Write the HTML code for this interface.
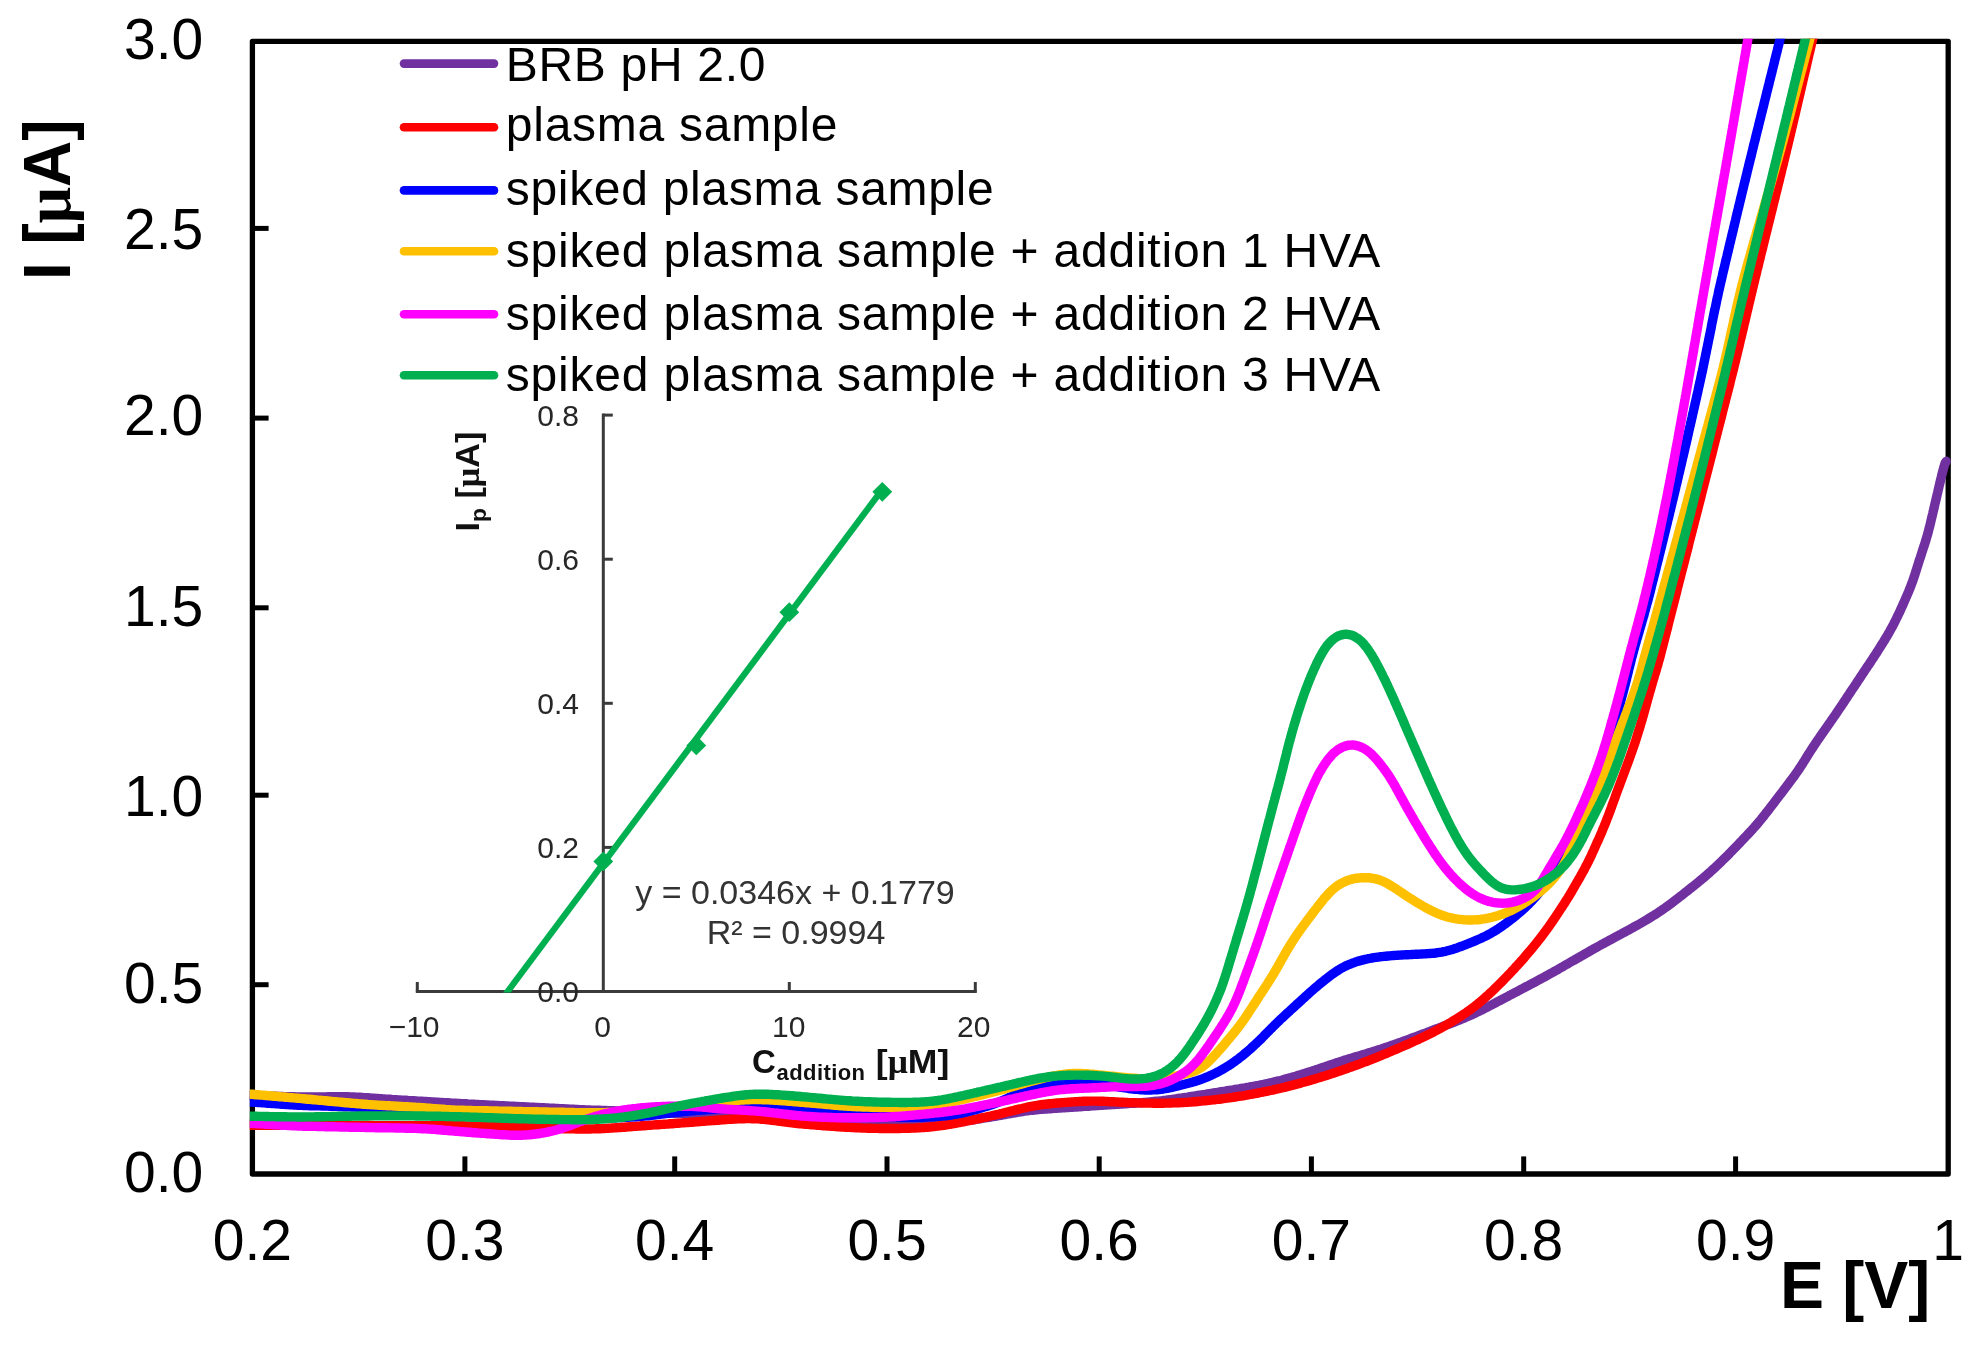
<!DOCTYPE html>
<html lang="en"><head><meta charset="utf-8"><title>DPV of plasma sample with HVA additions</title>
<style>html,body{margin:0;padding:0;background:#fff}body{width:1979px;height:1353px;overflow:hidden}svg{display:block;filter:blur(0.6px)}text{font-family:"Liberation Sans",sans-serif}</style></head><body>
<svg width="1979" height="1353" viewBox="0 0 1979 1353">
<rect x="0" y="0" width="1979" height="1353" fill="#fff"/>
<defs><clipPath id="plotclip"><rect x="249.8" y="38.8" width="1701.0" height="1135.2"/></clipPath></defs>
<g fill="none" stroke="#000" stroke-width="5.3" stroke-linejoin="round">
<rect x="252.4" y="41.3" width="1695.8" height="1132.7"/>
</g>
<g stroke="#000" stroke-width="5" fill="none">
<line x1="252.4" y1="228.4" x2="268.6" y2="228.4"/>
<line x1="252.4" y1="418.1" x2="268.6" y2="418.1"/>
<line x1="252.4" y1="607.8" x2="268.6" y2="607.8"/>
<line x1="252.4" y1="795.2" x2="268.6" y2="795.2"/>
<line x1="252.4" y1="984.7" x2="268.6" y2="984.7"/>
<line x1="464.9" y1="1174.0" x2="464.9" y2="1156.4"/>
<line x1="674.7" y1="1174.0" x2="674.7" y2="1156.4"/>
<line x1="887.0" y1="1174.0" x2="887.0" y2="1156.4"/>
<line x1="1099.2" y1="1174.0" x2="1099.2" y2="1156.4"/>
<line x1="1311.4" y1="1174.0" x2="1311.4" y2="1156.4"/>
<line x1="1523.7" y1="1174.0" x2="1523.7" y2="1156.4"/>
<line x1="1735.6" y1="1174.0" x2="1735.6" y2="1156.4"/>
</g>
<g font-size="57" fill="#000">
<text x="203.3" y="59.2" text-anchor="end">3.0</text>
<text x="203.3" y="249.1" text-anchor="end">2.5</text>
<text x="203.3" y="435.4" text-anchor="end">2.0</text>
<text x="203.3" y="625.7" text-anchor="end">1.5</text>
<text x="203.3" y="815.7" text-anchor="end">1.0</text>
<text x="203.3" y="1002.6" text-anchor="end">0.5</text>
<text x="203.3" y="1192.2" text-anchor="end">0.0</text>
<text x="252.4" y="1260.2" text-anchor="middle">0.2</text>
<text x="464.9" y="1260.2" text-anchor="middle">0.3</text>
<text x="674.7" y="1260.2" text-anchor="middle">0.4</text>
<text x="887.0" y="1260.2" text-anchor="middle">0.5</text>
<text x="1099.2" y="1260.2" text-anchor="middle">0.6</text>
<text x="1311.4" y="1260.2" text-anchor="middle">0.7</text>
<text x="1523.7" y="1260.2" text-anchor="middle">0.8</text>
<text x="1735.6" y="1260.2" text-anchor="middle">0.9</text>
<text x="1948.2" y="1260.2" text-anchor="middle">1</text>
</g>
<text x="1780" y="1307.6" font-size="66" font-weight="bold" fill="#000">E [V]</text>
<text transform="translate(69.5 280) rotate(-90)" font-size="66" font-weight="bold" fill="#000" textLength="160.5" lengthAdjust="spacingAndGlyphs">I [<tspan font-family="Liberation Serif, serif">μ</tspan>A]</text>
<g fill="none" stroke-width="9.4" stroke-linecap="round" stroke-linejoin="round" clip-path="url(#plotclip)">
<path stroke="#7030A0" d="M248.0,1095.3 250.2,1095.4 252.3,1095.5 254.3,1095.6 256.2,1095.7 258.2,1095.7 260.1,1095.8 262.1,1095.9 264.0,1096.0 266.0,1096.0 268.0,1096.1 270.0,1096.2 272.0,1096.2 274.0,1096.3 276.0,1096.3 278.0,1096.4 280.0,1096.5 282.0,1096.5 284.0,1096.6 286.0,1096.6 288.0,1096.7 290.0,1096.7 292.0,1096.8 294.0,1096.8 296.0,1096.9 298.0,1096.9 300.0,1096.9 302.0,1097.0 304.0,1097.0 306.0,1097.0 308.0,1097.0 310.0,1097.0 312.0,1097.0 314.0,1097.0 316.0,1097.0 318.0,1097.0 320.0,1096.9 322.0,1096.9 324.0,1096.9 326.0,1096.9 328.0,1096.8 330.0,1096.8 332.0,1096.8 334.0,1096.8 336.0,1096.7 338.0,1096.7 340.0,1096.7 342.0,1096.8 344.0,1096.8 346.0,1096.8 348.0,1096.8 350.0,1096.9 352.0,1097.0 354.0,1097.0 356.0,1097.1 358.0,1097.2 360.0,1097.3 362.0,1097.4 364.0,1097.6 366.0,1097.7 368.0,1097.8 370.0,1097.9 372.0,1098.1 374.0,1098.2 376.0,1098.4 378.0,1098.5 380.0,1098.6 382.0,1098.8 384.0,1098.9 386.0,1099.1 387.9,1099.2 389.9,1099.3 391.9,1099.5 393.9,1099.6 395.9,1099.7 397.9,1099.9 399.9,1100.0 401.9,1100.1 403.9,1100.2 405.9,1100.3 407.9,1100.5 409.9,1100.6 411.9,1100.7 413.9,1100.8 415.9,1100.9 417.9,1101.1 419.9,1101.2 421.9,1101.3 423.9,1101.4 425.9,1101.5 427.9,1101.7 429.9,1101.8 431.9,1101.9 433.9,1102.0 435.9,1102.1 437.9,1102.2 439.9,1102.4 441.9,1102.5 443.9,1102.6 445.9,1102.7 447.9,1102.8 449.9,1102.9 451.9,1103.1 453.8,1103.2 455.8,1103.3 457.8,1103.4 459.8,1103.5 461.8,1103.6 463.8,1103.7 465.8,1103.8 467.8,1104.0 469.8,1104.1 471.8,1104.2 473.8,1104.3 475.8,1104.4 477.8,1104.5 479.8,1104.6 481.8,1104.7 483.8,1104.8 485.8,1104.9 487.8,1105.0 489.8,1105.1 491.8,1105.2 493.8,1105.3 495.8,1105.4 497.8,1105.5 499.8,1105.6 501.8,1105.7 503.8,1105.8 505.8,1105.9 507.8,1106.0 509.8,1106.1 511.8,1106.2 513.8,1106.3 515.8,1106.4 517.8,1106.5 519.8,1106.6 521.8,1106.7 523.8,1106.8 525.8,1106.9 527.8,1107.0 529.8,1107.1 531.8,1107.2 533.8,1107.3 535.8,1107.4 537.8,1107.5 539.8,1107.6 541.8,1107.7 543.8,1107.8 545.8,1107.9 547.8,1108.0 549.8,1108.1 551.8,1108.2 553.8,1108.3 555.7,1108.4 557.7,1108.5 559.7,1108.6 561.7,1108.7 563.7,1108.8 565.7,1108.9 567.7,1109.0 569.7,1109.1 571.7,1109.2 573.7,1109.3 575.7,1109.4 577.7,1109.5 579.7,1109.6 581.7,1109.7 583.7,1109.8 585.7,1109.9 587.7,1109.9 589.7,1110.0 591.7,1110.1 593.7,1110.2 595.7,1110.2 597.7,1110.3 599.7,1110.3 601.7,1110.4 603.7,1110.5 605.7,1110.5 607.7,1110.6 609.7,1110.6 611.7,1110.7 613.7,1110.8 615.7,1110.9 617.7,1110.9 619.7,1111.0 621.7,1111.1 623.7,1111.2 625.7,1111.3 627.7,1111.4 629.7,1111.5 631.7,1111.6 633.7,1111.7 635.7,1111.8 637.7,1111.9 639.7,1112.0 641.7,1112.1 643.7,1112.2 645.7,1112.3 647.7,1112.4 649.7,1112.5 651.7,1112.6 653.7,1112.7 655.7,1112.8 657.7,1112.9 659.7,1113.0 661.7,1113.0 663.7,1113.1 665.7,1113.2 667.7,1113.2 669.7,1113.3 671.7,1113.4 673.7,1113.4 675.7,1113.5 677.7,1113.5 679.7,1113.6 681.7,1113.6 683.7,1113.7 685.7,1113.7 687.7,1113.8 689.7,1113.8 691.7,1113.8 693.7,1113.9 695.7,1113.9 697.7,1113.9 699.7,1114.0 701.7,1114.0 703.7,1114.0 705.7,1114.0 707.7,1114.0 709.7,1114.0 711.7,1114.0 713.7,1114.0 715.7,1114.0 717.7,1113.9 719.7,1113.9 721.7,1113.9 723.7,1113.9 725.7,1113.8 727.7,1113.8 729.7,1113.8 731.7,1113.7 733.7,1113.7 735.7,1113.7 737.7,1113.7 739.7,1113.7 741.7,1113.7 743.7,1113.7 745.7,1113.7 747.7,1113.7 749.7,1113.7 751.7,1113.8 753.7,1113.8 755.7,1113.9 757.7,1114.0 759.7,1114.1 761.7,1114.2 763.7,1114.4 765.7,1114.5 767.7,1114.7 769.7,1114.8 771.7,1115.0 773.7,1115.2 775.6,1115.4 777.6,1115.6 779.6,1115.8 781.6,1116.0 783.6,1116.3 785.6,1116.5 787.6,1116.7 789.6,1116.9 791.6,1117.1 793.5,1117.3 795.5,1117.5 797.5,1117.7 799.5,1117.9 801.5,1118.1 803.5,1118.3 805.5,1118.5 807.5,1118.6 809.5,1118.8 811.5,1119.0 813.5,1119.1 815.5,1119.3 817.5,1119.5 819.4,1119.6 821.4,1119.8 823.4,1120.0 825.4,1120.1 827.4,1120.3 829.4,1120.4 831.4,1120.6 833.4,1120.8 835.4,1120.9 837.4,1121.1 839.4,1121.2 841.4,1121.4 843.4,1121.5 845.4,1121.6 847.4,1121.8 849.4,1121.9 851.4,1122.1 853.4,1122.2 855.4,1122.3 857.4,1122.4 859.4,1122.5 861.4,1122.6 863.4,1122.7 865.4,1122.8 867.4,1122.9 869.4,1123.0 871.4,1123.1 873.4,1123.2 875.4,1123.3 877.4,1123.3 879.4,1123.4 881.4,1123.5 883.4,1123.5 885.4,1123.6 887.4,1123.7 889.4,1123.7 891.4,1123.8 893.4,1123.8 895.4,1123.9 897.4,1123.9 899.4,1124.0 901.4,1124.0 903.4,1124.1 905.4,1124.1 907.4,1124.2 909.4,1124.2 911.4,1124.2 913.4,1124.3 915.4,1124.3 917.4,1124.3 919.4,1124.3 921.4,1124.3 923.4,1124.3 925.4,1124.3 927.4,1124.3 929.4,1124.2 931.4,1124.2 933.4,1124.1 935.4,1124.0 937.4,1123.9 939.4,1123.8 941.4,1123.7 943.4,1123.5 945.4,1123.3 947.4,1123.2 949.3,1123.0 951.3,1122.7 953.3,1122.5 955.3,1122.3 957.3,1122.0 959.3,1121.8 961.3,1121.5 963.3,1121.2 965.2,1120.9 967.2,1120.6 969.2,1120.4 971.2,1120.1 973.2,1119.8 975.1,1119.5 977.1,1119.2 979.1,1118.8 981.1,1118.5 983.0,1118.2 985.0,1117.9 987.0,1117.6 989.0,1117.3 990.9,1117.0 992.9,1116.6 994.9,1116.3 996.9,1116.0 998.8,1115.6 1000.8,1115.3 1002.8,1114.9 1004.7,1114.6 1006.7,1114.2 1008.7,1113.9 1010.6,1113.5 1012.6,1113.2 1014.6,1112.8 1016.6,1112.5 1018.5,1112.1 1020.5,1111.8 1022.5,1111.5 1024.5,1111.2 1026.4,1110.9 1028.4,1110.7 1030.4,1110.4 1032.4,1110.2 1034.4,1110.0 1036.4,1109.8 1038.4,1109.6 1040.4,1109.4 1042.3,1109.3 1044.3,1109.1 1046.3,1109.0 1048.3,1108.8 1050.3,1108.7 1052.3,1108.5 1054.3,1108.4 1056.3,1108.3 1058.3,1108.1 1060.3,1108.0 1062.3,1107.9 1064.3,1107.8 1066.3,1107.6 1068.3,1107.5 1070.3,1107.4 1072.3,1107.2 1074.3,1107.1 1076.3,1107.0 1078.3,1106.8 1080.3,1106.7 1082.3,1106.6 1084.3,1106.4 1086.3,1106.3 1088.3,1106.2 1090.3,1106.0 1092.2,1105.9 1094.2,1105.8 1096.2,1105.6 1098.2,1105.5 1100.2,1105.4 1102.2,1105.3 1104.2,1105.1 1106.2,1105.0 1108.2,1104.9 1110.2,1104.7 1112.2,1104.6 1114.2,1104.5 1116.2,1104.3 1118.2,1104.2 1120.2,1104.1 1122.2,1104.0 1124.2,1103.8 1126.2,1103.7 1128.2,1103.6 1130.2,1103.4 1132.2,1103.3 1134.2,1103.2 1136.2,1103.0 1138.2,1102.9 1140.2,1102.7 1142.2,1102.6 1144.2,1102.4 1146.1,1102.3 1148.1,1102.1 1150.1,1101.9 1152.1,1101.7 1154.1,1101.5 1156.1,1101.3 1158.1,1101.1 1160.1,1100.9 1162.1,1100.7 1164.1,1100.4 1166.0,1100.2 1168.0,1099.9 1170.0,1099.6 1172.0,1099.4 1174.0,1099.1 1176.0,1098.8 1177.9,1098.5 1179.9,1098.2 1181.9,1098.0 1183.9,1097.7 1185.9,1097.4 1187.8,1097.1 1189.8,1096.7 1191.8,1096.4 1193.8,1096.1 1195.7,1095.8 1197.7,1095.5 1199.7,1095.2 1201.7,1094.9 1203.6,1094.6 1205.6,1094.3 1207.6,1093.9 1209.6,1093.6 1211.5,1093.3 1213.5,1093.0 1215.5,1092.7 1217.5,1092.4 1219.4,1092.0 1221.4,1091.7 1223.4,1091.4 1225.4,1091.1 1227.3,1090.7 1229.3,1090.4 1231.3,1090.1 1233.3,1089.8 1235.2,1089.4 1237.2,1089.1 1239.2,1088.8 1241.2,1088.4 1243.1,1088.1 1245.1,1087.8 1247.1,1087.4 1249.0,1087.1 1251.0,1086.7 1253.0,1086.4 1254.9,1086.0 1256.9,1085.6 1258.9,1085.3 1260.8,1084.9 1262.8,1084.5 1264.8,1084.1 1266.7,1083.7 1268.7,1083.2 1270.6,1082.8 1272.6,1082.4 1274.5,1081.9 1276.5,1081.4 1278.4,1080.9 1280.4,1080.5 1282.3,1080.0 1284.2,1079.4 1286.2,1078.9 1288.1,1078.4 1290.0,1077.9 1291.9,1077.3 1293.9,1076.7 1295.8,1076.2 1297.7,1075.6 1299.6,1075.0 1301.5,1074.4 1303.5,1073.9 1305.4,1073.2 1307.3,1072.6 1309.2,1072.0 1311.1,1071.4 1313.0,1070.8 1314.9,1070.2 1316.8,1069.5 1318.7,1068.9 1320.6,1068.2 1322.5,1067.6 1324.4,1067.0 1326.3,1066.3 1328.1,1065.7 1330.0,1065.0 1331.9,1064.4 1333.8,1063.8 1335.7,1063.1 1337.6,1062.5 1339.5,1061.9 1341.4,1061.3 1343.3,1060.6 1345.2,1060.0 1347.2,1059.4 1349.1,1058.8 1351.0,1058.3 1352.9,1057.7 1354.8,1057.1 1356.7,1056.5 1358.6,1056.0 1360.6,1055.4 1362.5,1054.8 1364.4,1054.2 1366.3,1053.7 1368.2,1053.1 1370.1,1052.5 1372.0,1051.9 1374.0,1051.3 1375.9,1050.7 1377.8,1050.1 1379.7,1049.5 1381.6,1048.9 1383.5,1048.2 1385.4,1047.6 1387.3,1047.0 1389.2,1046.3 1391.0,1045.6 1392.9,1045.0 1394.8,1044.3 1396.7,1043.7 1398.6,1043.0 1400.5,1042.3 1402.4,1041.6 1404.2,1040.9 1406.1,1040.3 1408.0,1039.6 1409.9,1038.9 1411.7,1038.2 1413.6,1037.5 1415.5,1036.8 1417.4,1036.1 1419.2,1035.4 1421.1,1034.7 1423.0,1034.0 1424.9,1033.3 1426.7,1032.6 1428.6,1031.8 1430.5,1031.1 1432.3,1030.4 1434.2,1029.7 1436.1,1029.0 1438.0,1028.3 1439.8,1027.6 1441.7,1026.9 1443.6,1026.1 1445.4,1025.4 1447.3,1024.7 1449.2,1024.0 1451.0,1023.3 1452.9,1022.6 1454.8,1021.8 1456.6,1021.1 1458.5,1020.4 1460.4,1019.6 1462.2,1018.8 1464.1,1018.1 1465.9,1017.3 1467.7,1016.5 1469.6,1015.7 1471.4,1014.9 1473.2,1014.1 1475.0,1013.2 1476.8,1012.3 1478.6,1011.5 1480.4,1010.6 1482.2,1009.7 1484.0,1008.8 1485.8,1007.9 1487.5,1007.0 1489.3,1006.0 1491.1,1005.1 1492.9,1004.2 1494.6,1003.3 1496.4,1002.3 1498.2,1001.4 1500.0,1000.5 1501.7,999.6 1503.5,998.6 1505.3,997.7 1507.0,996.8 1508.8,995.8 1510.6,994.9 1512.4,994.0 1514.1,993.0 1515.9,992.1 1517.7,991.2 1519.4,990.2 1521.2,989.3 1523.0,988.4 1524.8,987.4 1526.5,986.5 1528.3,985.6 1530.1,984.6 1531.8,983.7 1533.6,982.8 1535.4,981.8 1537.1,980.9 1538.9,979.9 1540.6,979.0 1542.4,978.0 1544.2,977.1 1545.9,976.1 1547.7,975.1 1549.4,974.2 1551.2,973.2 1552.9,972.2 1554.7,971.3 1556.4,970.3 1558.2,969.3 1559.9,968.3 1561.6,967.3 1563.4,966.3 1565.1,965.3 1566.8,964.3 1568.6,963.3 1570.3,962.3 1572.0,961.3 1573.8,960.4 1575.5,959.4 1577.2,958.4 1579.0,957.4 1580.7,956.4 1582.5,955.4 1584.2,954.4 1585.9,953.4 1587.7,952.4 1589.4,951.4 1591.1,950.4 1592.9,949.4 1594.6,948.4 1596.4,947.5 1598.1,946.5 1599.9,945.5 1601.6,944.5 1603.4,943.6 1605.1,942.6 1606.9,941.7 1608.6,940.7 1610.4,939.8 1612.2,938.8 1613.9,937.9 1615.7,936.9 1617.5,936.0 1619.2,935.0 1621.0,934.1 1622.7,933.2 1624.5,932.2 1626.3,931.3 1628.0,930.3 1629.8,929.3 1631.5,928.4 1633.3,927.4 1635.0,926.4 1636.8,925.5 1638.5,924.5 1640.3,923.5 1642.0,922.5 1643.7,921.5 1645.4,920.5 1647.2,919.4 1648.9,918.4 1650.6,917.4 1652.3,916.3 1654.0,915.3 1655.7,914.2 1657.4,913.1 1659.0,912.0 1660.7,910.9 1662.3,909.7 1664.0,908.6 1665.6,907.5 1667.2,906.3 1668.9,905.1 1670.5,903.9 1672.1,902.7 1673.7,901.5 1675.3,900.3 1676.9,899.1 1678.4,897.9 1680.0,896.6 1681.6,895.4 1683.2,894.2 1684.8,892.9 1686.3,891.7 1687.9,890.5 1689.5,889.2 1691.0,888.0 1692.6,886.7 1694.2,885.5 1695.7,884.2 1697.3,883.0 1698.8,881.7 1700.4,880.4 1701.9,879.1 1703.4,877.9 1704.9,876.6 1706.5,875.2 1708.0,873.9 1709.5,872.6 1711.0,871.3 1712.4,869.9 1713.9,868.6 1715.4,867.2 1716.8,865.9 1718.3,864.5 1719.7,863.1 1721.2,861.7 1722.6,860.3 1724.0,858.9 1725.5,857.5 1726.9,856.1 1728.3,854.7 1729.7,853.2 1731.1,851.8 1732.5,850.4 1733.9,848.9 1735.3,847.5 1736.7,846.1 1738.1,844.6 1739.4,843.2 1740.8,841.7 1742.2,840.3 1743.6,838.8 1745.0,837.4 1746.4,835.9 1747.7,834.5 1749.1,833.0 1750.5,831.5 1751.8,830.1 1753.1,828.6 1754.5,827.1 1755.8,825.6 1757.1,824.1 1758.4,822.6 1759.7,821.0 1761.0,819.5 1762.2,817.9 1763.5,816.4 1764.7,814.8 1765.9,813.2 1767.2,811.7 1768.4,810.1 1769.6,808.5 1770.8,806.9 1772.1,805.3 1773.3,803.7 1774.5,802.1 1775.7,800.5 1776.9,798.9 1778.1,797.4 1779.3,795.8 1780.5,794.2 1781.8,792.6 1783.0,791.0 1784.2,789.4 1785.4,787.8 1786.6,786.2 1787.8,784.6 1789.0,783.0 1790.2,781.4 1791.4,779.8 1792.6,778.2 1793.8,776.6 1795.0,775.0 1796.1,773.3 1797.3,771.7 1798.4,770.1 1799.5,768.4 1800.6,766.7 1801.7,765.0 1802.8,763.4 1803.8,761.7 1804.9,760.0 1805.9,758.3 1807.0,756.6 1808.0,754.9 1809.1,753.2 1810.2,751.5 1811.3,749.8 1812.4,748.1 1813.5,746.5 1814.6,744.8 1815.7,743.1 1816.8,741.5 1817.9,739.8 1819.1,738.2 1820.2,736.5 1821.3,734.9 1822.5,733.2 1823.6,731.6 1824.8,730.0 1825.9,728.3 1827.1,726.7 1828.2,725.0 1829.4,723.4 1830.5,721.8 1831.6,720.1 1832.8,718.5 1833.9,716.8 1835.1,715.2 1836.2,713.5 1837.3,711.9 1838.4,710.2 1839.5,708.5 1840.7,706.9 1841.8,705.2 1842.9,703.6 1844.0,701.9 1845.1,700.2 1846.2,698.6 1847.3,696.9 1848.4,695.2 1849.5,693.6 1850.6,691.9 1851.7,690.2 1852.8,688.6 1854.0,686.9 1855.1,685.2 1856.2,683.6 1857.3,681.9 1858.4,680.2 1859.5,678.6 1860.6,676.9 1861.7,675.2 1862.8,673.6 1863.9,671.9 1865.0,670.2 1866.1,668.6 1867.2,666.9 1868.4,665.2 1869.5,663.6 1870.6,661.9 1871.7,660.2 1872.8,658.6 1873.9,656.9 1875.0,655.2 1876.1,653.6 1877.2,651.9 1878.2,650.2 1879.3,648.5 1880.4,646.8 1881.4,645.1 1882.5,643.4 1883.6,641.7 1884.6,640.0 1885.6,638.3 1886.7,636.6 1887.7,634.9 1888.7,633.1 1889.7,631.4 1890.6,629.6 1891.6,627.9 1892.6,626.1 1893.5,624.4 1894.4,622.6 1895.3,620.8 1896.2,619.0 1897.1,617.2 1898.0,615.4 1898.8,613.6 1899.7,611.8 1900.5,610.0 1901.3,608.2 1902.2,606.3 1903.0,604.5 1903.8,602.7 1904.6,600.9 1905.4,599.0 1906.2,597.2 1907.0,595.4 1907.8,593.5 1908.6,591.7 1909.3,589.8 1910.1,588.0 1910.8,586.1 1911.5,584.2 1912.2,582.3 1912.9,580.5 1913.5,578.6 1914.2,576.7 1914.8,574.8 1915.4,572.9 1916.0,571.0 1916.6,569.1 1917.2,567.2 1917.8,565.3 1918.4,563.4 1919.0,561.4 1919.6,559.5 1920.3,557.6 1920.9,555.7 1921.5,553.8 1922.1,551.9 1922.7,550.0 1923.3,548.1 1924.0,546.2 1924.6,544.3 1925.2,542.4 1925.8,540.5 1926.3,538.6 1926.9,536.7 1927.5,534.7 1928.0,532.8 1928.5,530.9 1929.0,528.9 1929.5,527.0 1930.0,525.1 1930.5,523.1 1930.9,521.2 1931.4,519.2 1931.8,517.3 1932.3,515.3 1932.8,513.4 1933.2,511.4 1933.7,509.5 1934.1,507.5 1934.6,505.6 1935.0,503.6 1935.5,501.7 1936.0,499.7 1936.4,497.8 1936.9,495.9 1937.3,493.9 1937.8,492.0 1938.2,490.0 1938.7,488.1 1939.1,486.1 1939.6,484.2 1940.1,482.2 1940.5,480.3 1941.0,478.4 1941.5,476.4 1941.9,474.5 1942.4,472.6 1942.9,470.7 1943.4,468.9 1943.9,467.0 1944.5,465.0 1945.1,463.1 1946.3,461.3"/>
<path stroke="#FF0000" d="M248.0,1125.3 250.2,1125.3 252.3,1125.3 254.3,1125.3 256.2,1125.3 258.2,1125.3 260.1,1125.3 262.1,1125.3 264.1,1125.3 266.0,1125.3 268.0,1125.3 270.0,1125.3 272.0,1125.3 274.0,1125.3 276.0,1125.3 278.0,1125.3 280.0,1125.3 282.0,1125.4 284.0,1125.4 286.0,1125.4 288.0,1125.4 290.0,1125.4 292.0,1125.4 294.0,1125.4 296.0,1125.4 298.0,1125.4 300.0,1125.4 302.0,1125.4 304.0,1125.4 306.0,1125.4 308.0,1125.4 310.0,1125.4 312.0,1125.4 314.0,1125.4 316.0,1125.4 318.0,1125.4 320.1,1125.4 322.1,1125.4 324.1,1125.4 326.1,1125.4 328.1,1125.5 330.1,1125.5 332.1,1125.5 334.1,1125.5 336.1,1125.5 338.1,1125.5 340.1,1125.5 342.1,1125.5 344.1,1125.5 346.1,1125.5 348.1,1125.5 350.1,1125.5 352.1,1125.5 354.1,1125.5 356.1,1125.5 358.1,1125.5 360.1,1125.5 362.1,1125.5 364.1,1125.5 366.1,1125.5 368.1,1125.5 370.1,1125.5 372.1,1125.5 374.1,1125.6 376.1,1125.6 378.1,1125.6 380.1,1125.6 382.1,1125.6 384.1,1125.6 386.1,1125.6 388.1,1125.6 390.1,1125.6 392.1,1125.6 394.1,1125.6 396.1,1125.6 398.1,1125.6 400.1,1125.6 402.1,1125.6 404.1,1125.6 406.1,1125.6 408.1,1125.6 410.1,1125.6 412.1,1125.6 414.1,1125.6 416.1,1125.7 418.1,1125.7 420.1,1125.7 422.1,1125.7 424.1,1125.7 426.1,1125.7 428.1,1125.7 430.1,1125.7 432.1,1125.7 434.1,1125.7 436.1,1125.7 438.1,1125.7 440.1,1125.7 442.1,1125.7 444.1,1125.7 446.1,1125.7 448.1,1125.8 450.1,1125.8 452.1,1125.8 454.1,1125.8 456.1,1125.8 458.1,1125.8 460.1,1125.8 462.1,1125.8 464.2,1125.8 466.2,1125.9 468.2,1125.9 470.2,1125.9 472.2,1125.9 474.2,1126.0 476.2,1126.0 478.2,1126.0 480.2,1126.1 482.2,1126.1 484.2,1126.2 486.2,1126.2 488.2,1126.2 490.2,1126.3 492.2,1126.3 494.2,1126.4 496.2,1126.4 498.2,1126.5 500.2,1126.5 502.2,1126.6 504.2,1126.6 506.2,1126.7 508.2,1126.7 510.2,1126.8 512.2,1126.8 514.2,1126.9 516.2,1126.9 518.2,1127.0 520.2,1127.0 522.2,1127.1 524.2,1127.1 526.2,1127.2 528.2,1127.3 530.2,1127.3 532.2,1127.4 534.2,1127.5 536.2,1127.6 538.2,1127.6 540.2,1127.7 542.2,1127.8 544.2,1127.9 546.2,1128.0 548.2,1128.1 550.2,1128.1 552.2,1128.2 554.2,1128.3 556.2,1128.4 558.2,1128.5 560.2,1128.5 562.2,1128.6 564.2,1128.7 566.2,1128.7 568.2,1128.8 570.2,1128.9 572.2,1128.9 574.2,1128.9 576.2,1129.0 578.2,1129.0 580.2,1129.0 582.2,1129.0 584.2,1129.0 586.2,1129.0 588.2,1129.0 590.2,1129.0 592.2,1128.9 594.2,1128.9 596.2,1128.8 598.2,1128.8 600.2,1128.7 602.2,1128.6 604.2,1128.5 606.2,1128.4 608.2,1128.3 610.2,1128.1 612.2,1128.0 614.2,1127.9 616.2,1127.7 618.2,1127.6 620.2,1127.5 622.2,1127.3 624.2,1127.2 626.2,1127.0 628.2,1126.9 630.2,1126.7 632.2,1126.6 634.1,1126.4 636.1,1126.2 638.1,1126.1 640.1,1126.0 642.1,1125.8 644.1,1125.7 646.1,1125.5 648.1,1125.4 650.1,1125.2 652.1,1125.1 654.1,1124.9 656.1,1124.8 658.1,1124.7 660.1,1124.5 662.1,1124.4 664.1,1124.2 666.1,1124.1 668.1,1124.0 670.1,1123.8 672.1,1123.7 674.1,1123.5 676.1,1123.4 678.1,1123.2 680.1,1123.1 682.1,1122.9 684.1,1122.8 686.0,1122.6 688.0,1122.5 690.0,1122.3 692.0,1122.2 694.0,1122.0 696.0,1121.9 698.0,1121.7 700.0,1121.6 702.0,1121.4 704.0,1121.2 706.0,1121.1 708.0,1120.9 710.0,1120.8 712.0,1120.6 714.0,1120.5 716.0,1120.3 718.0,1120.2 720.0,1120.0 722.0,1119.9 724.0,1119.7 726.0,1119.6 728.0,1119.4 730.0,1119.3 732.0,1119.2 734.0,1119.1 736.0,1119.0 738.0,1118.9 740.0,1118.8 742.0,1118.7 744.0,1118.7 746.0,1118.6 748.0,1118.6 750.0,1118.6 752.0,1118.7 754.0,1118.7 755.9,1118.8 757.9,1118.9 759.9,1119.0 761.9,1119.2 763.9,1119.3 765.9,1119.5 767.9,1119.7 769.9,1120.0 771.9,1120.2 773.9,1120.5 775.8,1120.7 777.8,1121.0 779.8,1121.2 781.8,1121.5 783.8,1121.8 785.8,1122.0 787.8,1122.3 789.8,1122.6 791.7,1122.8 793.7,1123.0 795.7,1123.3 797.7,1123.5 799.7,1123.7 801.7,1123.9 803.7,1124.1 805.7,1124.3 807.7,1124.4 809.7,1124.6 811.7,1124.8 813.7,1124.9 815.7,1125.1 817.6,1125.2 819.6,1125.4 821.6,1125.5 823.6,1125.7 825.6,1125.8 827.6,1126.0 829.6,1126.1 831.6,1126.3 833.6,1126.4 835.6,1126.6 837.6,1126.7 839.6,1126.8 841.6,1127.0 843.6,1127.1 845.6,1127.2 847.6,1127.3 849.6,1127.4 851.6,1127.5 853.6,1127.6 855.6,1127.7 857.6,1127.8 859.6,1127.9 861.6,1128.0 863.6,1128.1 865.6,1128.1 867.6,1128.2 869.6,1128.3 871.6,1128.3 873.6,1128.4 875.6,1128.4 877.6,1128.4 879.6,1128.5 881.6,1128.5 883.6,1128.5 885.6,1128.5 887.6,1128.5 889.6,1128.5 891.6,1128.5 893.6,1128.5 895.6,1128.5 897.6,1128.5 899.6,1128.5 901.6,1128.4 903.6,1128.4 905.6,1128.3 907.6,1128.3 909.6,1128.2 911.6,1128.1 913.6,1128.1 915.6,1128.0 917.6,1127.9 919.6,1127.7 921.6,1127.6 923.6,1127.5 925.6,1127.3 927.6,1127.2 929.6,1127.0 931.6,1126.8 933.6,1126.6 935.6,1126.3 937.6,1126.1 939.5,1125.8 941.5,1125.6 943.5,1125.3 945.5,1125.0 947.5,1124.7 949.5,1124.3 951.5,1124.0 953.4,1123.7 955.4,1123.3 957.4,1122.9 959.3,1122.6 961.3,1122.2 963.3,1121.8 965.2,1121.4 967.2,1121.0 969.2,1120.6 971.1,1120.2 973.1,1119.8 975.0,1119.4 977.0,1119.0 979.0,1118.6 980.9,1118.1 982.9,1117.7 984.8,1117.3 986.8,1116.9 988.7,1116.4 990.7,1116.0 992.6,1115.5 994.6,1115.1 996.5,1114.7 998.5,1114.2 1000.4,1113.7 1002.4,1113.3 1004.3,1112.8 1006.2,1112.3 1008.2,1111.8 1010.1,1111.3 1012.1,1110.8 1014.0,1110.4 1015.9,1109.9 1017.9,1109.4 1019.8,1108.9 1021.8,1108.5 1023.7,1108.0 1025.7,1107.6 1027.6,1107.1 1029.6,1106.7 1031.6,1106.3 1033.5,1106.0 1035.5,1105.6 1037.5,1105.3 1039.4,1105.0 1041.4,1104.7 1043.4,1104.4 1045.4,1104.2 1047.4,1104.0 1049.4,1103.8 1051.4,1103.6 1053.4,1103.4 1055.4,1103.2 1057.3,1103.0 1059.3,1102.9 1061.3,1102.7 1063.3,1102.6 1065.3,1102.4 1067.3,1102.3 1069.3,1102.1 1071.3,1102.0 1073.3,1101.9 1075.3,1101.7 1077.3,1101.6 1079.3,1101.5 1081.3,1101.4 1083.3,1101.3 1085.3,1101.2 1087.3,1101.2 1089.3,1101.1 1091.3,1101.1 1093.3,1101.1 1095.3,1101.1 1097.3,1101.1 1099.3,1101.2 1101.3,1101.2 1103.3,1101.3 1105.3,1101.4 1107.3,1101.5 1109.3,1101.6 1111.3,1101.7 1113.3,1101.8 1115.3,1101.9 1117.3,1102.0 1119.3,1102.1 1121.3,1102.2 1123.3,1102.3 1125.3,1102.4 1127.3,1102.5 1129.3,1102.6 1131.3,1102.7 1133.3,1102.8 1135.3,1102.8 1137.3,1102.9 1139.3,1102.9 1141.3,1103.0 1143.3,1103.0 1145.3,1103.1 1147.3,1103.1 1149.3,1103.1 1151.3,1103.1 1153.3,1103.2 1155.3,1103.2 1157.3,1103.2 1159.3,1103.2 1161.3,1103.2 1163.3,1103.2 1165.3,1103.1 1167.3,1103.1 1169.3,1103.1 1171.3,1103.0 1173.3,1102.9 1175.3,1102.9 1177.3,1102.8 1179.3,1102.7 1181.3,1102.6 1183.3,1102.5 1185.3,1102.4 1187.3,1102.3 1189.3,1102.1 1191.3,1102.0 1193.3,1101.8 1195.3,1101.7 1197.3,1101.5 1199.3,1101.3 1201.3,1101.1 1203.3,1100.9 1205.3,1100.7 1207.3,1100.5 1209.2,1100.3 1211.2,1100.1 1213.2,1099.9 1215.2,1099.7 1217.2,1099.4 1219.2,1099.2 1221.2,1099.0 1223.2,1098.7 1225.2,1098.4 1227.1,1098.2 1229.1,1097.9 1231.1,1097.6 1233.1,1097.3 1235.1,1097.0 1237.0,1096.7 1239.0,1096.4 1241.0,1096.1 1243.0,1095.8 1244.9,1095.4 1246.9,1095.1 1248.9,1094.7 1250.9,1094.4 1252.8,1094.0 1254.8,1093.7 1256.8,1093.3 1258.7,1092.9 1260.7,1092.5 1262.7,1092.1 1264.6,1091.7 1266.6,1091.3 1268.5,1090.9 1270.5,1090.5 1272.5,1090.1 1274.4,1089.6 1276.4,1089.2 1278.3,1088.7 1280.3,1088.3 1282.2,1087.8 1284.2,1087.4 1286.1,1086.9 1288.0,1086.4 1290.0,1085.9 1291.9,1085.4 1293.9,1084.9 1295.8,1084.4 1297.7,1083.9 1299.7,1083.4 1301.6,1082.8 1303.5,1082.3 1305.4,1081.7 1307.4,1081.2 1309.3,1080.6 1311.2,1080.1 1313.1,1079.5 1315.1,1078.9 1317.0,1078.3 1318.9,1077.8 1320.8,1077.2 1322.7,1076.6 1324.6,1076.0 1326.5,1075.4 1328.4,1074.8 1330.3,1074.2 1332.2,1073.5 1334.1,1072.9 1336.0,1072.3 1337.9,1071.6 1339.8,1071.0 1341.7,1070.3 1343.6,1069.7 1345.5,1069.0 1347.4,1068.4 1349.3,1067.7 1351.2,1067.0 1353.0,1066.3 1354.9,1065.7 1356.8,1065.0 1358.7,1064.3 1360.6,1063.6 1362.4,1062.9 1364.3,1062.2 1366.2,1061.5 1368.0,1060.8 1369.9,1060.0 1371.8,1059.3 1373.6,1058.6 1375.5,1057.8 1377.4,1057.1 1379.2,1056.3 1381.1,1055.6 1382.9,1054.8 1384.8,1054.0 1386.6,1053.3 1388.5,1052.5 1390.3,1051.7 1392.1,1050.9 1394.0,1050.2 1395.8,1049.4 1397.7,1048.6 1399.5,1047.8 1401.3,1047.0 1403.2,1046.2 1405.0,1045.4 1406.8,1044.6 1408.7,1043.8 1410.5,1043.0 1412.3,1042.1 1414.1,1041.3 1416.0,1040.5 1417.8,1039.7 1419.6,1038.8 1421.4,1038.0 1423.2,1037.1 1425.0,1036.2 1426.8,1035.4 1428.6,1034.5 1430.4,1033.6 1432.2,1032.7 1434.0,1031.8 1435.7,1030.8 1437.5,1029.9 1439.3,1028.9 1441.0,1028.0 1442.8,1027.0 1444.5,1026.0 1446.2,1025.0 1448.0,1024.0 1449.7,1023.0 1451.4,1022.0 1453.1,1020.9 1454.9,1019.9 1456.6,1018.9 1458.3,1017.8 1459.9,1016.7 1461.6,1015.6 1463.3,1014.5 1465.0,1013.4 1466.6,1012.3 1468.2,1011.1 1469.9,1010.0 1471.5,1008.8 1473.1,1007.6 1474.7,1006.3 1476.2,1005.1 1477.8,1003.9 1479.3,1002.6 1480.9,1001.3 1482.4,1000.0 1483.9,998.7 1485.4,997.4 1486.9,996.0 1488.4,994.7 1489.9,993.3 1491.3,992.0 1492.8,990.6 1494.2,989.2 1495.7,987.8 1497.1,986.4 1498.5,985.0 1499.9,983.6 1501.3,982.2 1502.8,980.8 1504.2,979.3 1505.5,977.9 1506.9,976.5 1508.3,975.0 1509.7,973.6 1511.1,972.1 1512.4,970.6 1513.8,969.2 1515.2,967.7 1516.5,966.2 1517.9,964.7 1519.2,963.3 1520.5,961.8 1521.9,960.3 1523.2,958.8 1524.5,957.3 1525.8,955.7 1527.1,954.2 1528.4,952.7 1529.7,951.2 1531.0,949.6 1532.3,948.1 1533.5,946.6 1534.8,945.0 1536.1,943.5 1537.3,941.9 1538.6,940.3 1539.8,938.7 1541.0,937.2 1542.2,935.6 1543.4,934.0 1544.6,932.4 1545.8,930.8 1547.0,929.1 1548.2,927.5 1549.3,925.9 1550.5,924.3 1551.6,922.6 1552.7,921.0 1553.9,919.3 1555.0,917.7 1556.1,916.0 1557.2,914.3 1558.3,912.7 1559.4,911.0 1560.5,909.3 1561.6,907.6 1562.7,906.0 1563.8,904.3 1564.9,902.6 1565.9,900.9 1567.0,899.2 1568.1,897.5 1569.1,895.8 1570.1,894.1 1571.2,892.4 1572.2,890.6 1573.2,888.9 1574.2,887.2 1575.2,885.4 1576.2,883.7 1577.2,882.0 1578.2,880.2 1579.2,878.5 1580.2,876.8 1581.1,875.0 1582.1,873.3 1583.1,871.5 1584.1,869.8 1585.0,868.0 1585.9,866.2 1586.9,864.5 1587.8,862.7 1588.7,860.9 1589.5,859.1 1590.4,857.3 1591.3,855.5 1592.1,853.7 1592.9,851.8 1593.8,850.0 1594.6,848.2 1595.4,846.4 1596.2,844.5 1597.0,842.7 1597.9,840.9 1598.7,839.1 1599.5,837.2 1600.3,835.4 1601.1,833.6 1601.9,831.7 1602.6,829.9 1603.4,828.0 1604.2,826.2 1604.9,824.3 1605.7,822.5 1606.4,820.6 1607.1,818.7 1607.9,816.9 1608.6,815.0 1609.3,813.1 1610.0,811.3 1610.7,809.4 1611.4,807.5 1612.0,805.6 1612.7,803.7 1613.4,801.9 1614.1,800.0 1614.8,798.1 1615.5,796.2 1616.1,794.3 1616.8,792.4 1617.5,790.6 1618.2,788.7 1618.9,786.8 1619.6,784.9 1620.3,783.1 1621.0,781.2 1621.7,779.3 1622.4,777.4 1623.1,775.6 1623.8,773.7 1624.5,771.8 1625.2,769.9 1625.9,768.1 1626.6,766.2 1627.3,764.3 1628.0,762.4 1628.7,760.6 1629.4,758.7 1630.0,756.8 1630.7,754.9 1631.4,753.0 1632.1,751.1 1632.7,749.2 1633.4,747.3 1634.0,745.5 1634.7,743.6 1635.3,741.7 1635.9,739.8 1636.5,737.9 1637.1,735.9 1637.7,734.0 1638.3,732.1 1638.9,730.2 1639.5,728.3 1640.1,726.4 1640.6,724.5 1641.2,722.5 1641.8,720.6 1642.3,718.7 1642.9,716.8 1643.4,714.8 1644.0,712.9 1644.5,711.0 1645.0,709.1 1645.6,707.1 1646.1,705.2 1646.6,703.3 1647.2,701.3 1647.7,699.4 1648.2,697.5 1648.8,695.6 1649.3,693.6 1649.9,691.7 1650.4,689.8 1651.0,687.9 1651.5,685.9 1652.1,684.0 1652.6,682.1 1653.2,680.2 1653.8,678.3 1654.3,676.3 1654.9,674.4 1655.5,672.5 1656.1,670.6 1656.6,668.7 1657.2,666.7 1657.8,664.8 1658.3,662.9 1658.8,661.0 1659.4,659.0 1659.9,657.1 1660.4,655.2 1660.9,653.2 1661.4,651.3 1661.9,649.4 1662.4,647.4 1662.9,645.5 1663.4,643.6 1663.9,641.6 1664.4,639.7 1664.9,637.7 1665.4,635.8 1665.9,633.9 1666.4,631.9 1666.9,630.0 1667.4,628.0 1667.9,626.1 1668.3,624.2 1668.8,622.2 1669.3,620.3 1669.8,618.3 1670.3,616.4 1670.8,614.5 1671.3,612.5 1671.8,610.6 1672.3,608.6 1672.8,606.7 1673.3,604.8 1673.8,602.8 1674.3,600.9 1674.8,598.9 1675.3,597.0 1675.8,595.1 1676.3,593.1 1676.8,591.2 1677.2,589.2 1677.7,587.3 1678.2,585.4 1678.7,583.4 1679.2,581.5 1679.7,579.6 1680.2,577.6 1680.7,575.7 1681.2,573.7 1681.7,571.8 1682.2,569.9 1682.7,567.9 1683.2,566.0 1683.7,564.0 1684.2,562.1 1684.7,560.2 1685.2,558.2 1685.7,556.3 1686.2,554.3 1686.7,552.4 1687.2,550.5 1687.7,548.5 1688.2,546.6 1688.6,544.7 1689.1,542.7 1689.6,540.8 1690.1,538.8 1690.6,536.9 1691.1,535.0 1691.6,533.0 1692.1,531.1 1692.6,529.1 1693.1,527.2 1693.6,525.3 1694.1,523.3 1694.6,521.4 1695.1,519.4 1695.6,517.5 1696.1,515.6 1696.6,513.6 1697.1,511.7 1697.6,509.8 1698.1,507.8 1698.6,505.9 1699.1,503.9 1699.6,502.0 1700.1,500.1 1700.6,498.1 1701.1,496.2 1701.5,494.2 1702.0,492.3 1702.5,490.4 1703.0,488.4 1703.5,486.5 1704.0,484.5 1704.5,482.6 1705.0,480.7 1705.5,478.7 1706.0,476.8 1706.5,474.8 1707.0,472.9 1707.5,471.0 1708.0,469.0 1708.5,467.1 1709.0,465.2 1709.5,463.2 1710.0,461.3 1710.5,459.3 1711.0,457.4 1711.5,455.5 1712.0,453.5 1712.5,451.6 1713.0,449.6 1713.4,447.7 1713.9,445.8 1714.4,443.8 1714.9,441.9 1715.4,439.9 1715.9,438.0 1716.4,436.1 1716.9,434.1 1717.4,432.2 1717.9,430.2 1718.4,428.3 1718.9,426.4 1719.4,424.4 1719.9,422.5 1720.4,420.6 1720.9,418.6 1721.4,416.7 1721.9,414.7 1722.4,412.8 1722.8,410.9 1723.3,408.9 1723.8,407.0 1724.3,405.0 1724.8,403.1 1725.3,401.2 1725.8,399.2 1726.3,397.3 1726.8,395.3 1727.3,393.4 1727.8,391.5 1728.3,389.5 1728.8,387.6 1729.3,385.6 1729.8,383.7 1730.2,381.8 1730.7,379.8 1731.2,377.9 1731.7,375.9 1732.2,374.0 1732.7,372.1 1733.2,370.1 1733.7,368.2 1734.1,366.2 1734.6,364.3 1735.1,362.3 1735.6,360.4 1736.0,358.5 1736.5,356.5 1737.0,354.6 1737.4,352.6 1737.9,350.7 1738.4,348.7 1738.9,346.8 1739.3,344.8 1739.8,342.9 1740.2,340.9 1740.7,339.0 1741.2,337.0 1741.6,335.1 1742.1,333.1 1742.6,331.2 1743.0,329.3 1743.5,327.3 1743.9,325.4 1744.4,323.4 1744.9,321.5 1745.3,319.5 1745.8,317.6 1746.2,315.6 1746.7,313.7 1747.1,311.7 1747.6,309.8 1748.1,307.8 1748.5,305.9 1749.0,303.9 1749.4,302.0 1749.9,300.0 1750.4,298.1 1750.8,296.1 1751.3,294.2 1751.8,292.2 1752.2,290.3 1752.7,288.4 1753.2,286.4 1753.6,284.5 1754.1,282.5 1754.6,280.6 1755.0,278.6 1755.5,276.7 1756.0,274.7 1756.5,272.8 1756.9,270.8 1757.4,268.9 1757.9,267.0 1758.4,265.0 1758.8,263.1 1759.3,261.1 1759.8,259.2 1760.3,257.2 1760.7,255.3 1761.2,253.4 1761.7,251.4 1762.2,249.5 1762.7,247.5 1763.1,245.6 1763.6,243.6 1764.1,241.7 1764.6,239.7 1765.1,237.8 1765.5,235.9 1766.0,233.9 1766.5,232.0 1767.0,230.0 1767.5,228.1 1767.9,226.1 1768.4,224.2 1768.9,222.3 1769.4,220.3 1769.9,218.4 1770.4,216.4 1770.8,214.5 1771.3,212.6 1771.8,210.6 1772.3,208.7 1772.8,206.7 1773.2,204.8 1773.7,202.8 1774.2,200.9 1774.7,199.0 1775.2,197.0 1775.6,195.1 1776.1,193.1 1776.6,191.2 1777.1,189.2 1777.6,187.3 1778.0,185.3 1778.5,183.4 1779.0,181.5 1779.5,179.5 1779.9,177.6 1780.4,175.6 1780.9,173.7 1781.4,171.7 1781.8,169.8 1782.3,167.9 1782.8,165.9 1783.3,164.0 1783.7,162.0 1784.2,160.1 1784.7,158.1 1785.1,156.2 1785.6,154.2 1786.1,152.3 1786.5,150.3 1787.0,148.4 1787.5,146.5 1787.9,144.5 1788.4,142.6 1788.9,140.6 1789.3,138.7 1789.8,136.7 1790.3,134.8 1790.7,132.8 1791.2,130.9 1791.6,128.9 1792.1,127.0 1792.6,125.0 1793.0,123.1 1793.5,121.1 1793.9,119.2 1794.4,117.2 1794.9,115.3 1795.3,113.3 1795.8,111.4 1796.2,109.4 1796.7,107.5 1797.1,105.5 1797.6,103.6 1798.0,101.6 1798.5,99.7 1799.0,97.7 1799.4,95.8 1799.9,93.9 1800.3,91.9 1800.8,90.0 1801.2,88.0 1801.7,86.1 1802.1,84.1 1802.6,82.2 1803.0,80.2 1803.5,78.3 1803.9,76.3 1804.4,74.4 1804.9,72.4 1805.3,70.5 1805.8,68.5 1806.2,66.6 1806.7,64.6 1807.1,62.7 1807.6,60.7 1808.0,58.8 1808.5,56.8 1808.9,54.9 1809.4,52.9 1809.9,51.0 1810.3,49.0 1810.8,47.1 1811.2,45.1 1811.7,43.2 1812.1,41.2 1812.6,39.3 1813.1,37.3 1813.5,35.4 1814.0,33.4 1814.4,31.5 1814.9,29.6 1815.3,27.6 1815.8,25.7 1816.2,23.8 1816.7,21.9 1817.1,20.0 1817.6,18.1 1818.0,16.2 1818.5,14.1 1819.0,12.0"/>
<path stroke="#0000FF" d="M248.0,1102.0 250.2,1102.0 252.3,1102.1 254.3,1102.2 256.2,1102.3 258.2,1102.5 260.1,1102.6 262.1,1102.7 264.0,1102.9 266.0,1103.0 268.0,1103.2 270.0,1103.3 272.0,1103.5 274.0,1103.6 276.0,1103.8 277.9,1103.9 279.9,1104.1 281.9,1104.2 283.9,1104.4 285.9,1104.5 287.9,1104.6 289.9,1104.8 291.9,1104.9 293.9,1105.0 295.9,1105.1 297.9,1105.2 299.9,1105.3 301.9,1105.4 303.9,1105.5 305.9,1105.5 307.9,1105.6 309.9,1105.7 311.9,1105.7 313.9,1105.8 315.9,1105.8 317.9,1105.9 319.9,1105.9 321.9,1106.0 323.9,1106.0 325.9,1106.1 327.9,1106.1 329.9,1106.2 331.9,1106.3 333.9,1106.3 335.9,1106.4 337.9,1106.5 339.9,1106.5 341.9,1106.6 343.9,1106.7 345.9,1106.7 347.9,1106.8 349.9,1106.9 351.9,1107.0 353.9,1107.0 355.9,1107.1 357.9,1107.2 359.9,1107.3 361.9,1107.4 363.9,1107.4 365.9,1107.5 367.9,1107.6 369.9,1107.7 371.9,1107.8 373.9,1107.8 375.9,1107.9 377.9,1108.0 379.9,1108.1 381.9,1108.2 383.9,1108.3 385.9,1108.3 387.9,1108.4 389.9,1108.5 391.9,1108.6 393.9,1108.7 395.9,1108.8 397.9,1108.9 399.9,1109.0 401.9,1109.1 403.9,1109.2 405.9,1109.3 407.9,1109.4 409.9,1109.5 411.9,1109.6 413.9,1109.7 415.9,1109.8 417.9,1109.9 419.9,1110.0 421.9,1110.1 423.9,1110.2 425.9,1110.3 427.9,1110.4 429.9,1110.5 431.8,1110.6 433.8,1110.7 435.8,1110.8 437.8,1110.9 439.8,1111.0 441.8,1111.1 443.8,1111.2 445.8,1111.3 447.8,1111.4 449.8,1111.5 451.8,1111.6 453.8,1111.7 455.8,1111.8 457.8,1111.9 459.8,1112.0 461.8,1112.1 463.8,1112.2 465.8,1112.3 467.8,1112.4 469.8,1112.5 471.8,1112.6 473.8,1112.7 475.8,1112.8 477.8,1112.9 479.8,1113.0 481.8,1113.1 483.8,1113.2 485.8,1113.3 487.8,1113.4 489.8,1113.5 491.8,1113.6 493.8,1113.7 495.8,1113.8 497.8,1113.9 499.8,1114.0 501.8,1114.1 503.8,1114.2 505.8,1114.3 507.8,1114.4 509.8,1114.5 511.8,1114.6 513.8,1114.7 515.8,1114.8 517.8,1114.9 519.8,1115.0 521.8,1115.1 523.8,1115.2 525.8,1115.3 527.8,1115.4 529.8,1115.5 531.8,1115.5 533.8,1115.6 535.8,1115.7 537.8,1115.8 539.8,1115.9 541.8,1116.0 543.8,1116.1 545.8,1116.2 547.8,1116.2 549.8,1116.3 551.8,1116.4 553.8,1116.5 555.8,1116.6 557.8,1116.6 559.8,1116.7 561.8,1116.8 563.8,1116.9 565.8,1116.9 567.7,1117.0 569.7,1117.1 571.7,1117.2 573.7,1117.2 575.7,1117.3 577.7,1117.4 579.7,1117.4 581.7,1117.5 583.7,1117.6 585.7,1117.6 587.7,1117.7 589.7,1117.7 591.7,1117.7 593.7,1117.8 595.7,1117.8 597.7,1117.8 599.7,1117.8 601.7,1117.8 603.7,1117.8 605.8,1117.8 607.8,1117.8 609.8,1117.8 611.8,1117.8 613.8,1117.7 615.8,1117.7 617.8,1117.6 619.8,1117.6 621.8,1117.5 623.8,1117.4 625.8,1117.3 627.8,1117.2 629.8,1117.1 631.8,1117.0 633.8,1116.9 635.8,1116.8 637.8,1116.6 639.8,1116.5 641.7,1116.3 643.7,1116.1 645.7,1115.9 647.7,1115.7 649.7,1115.5 651.7,1115.3 653.7,1115.1 655.7,1114.8 657.7,1114.6 659.7,1114.4 661.6,1114.1 663.6,1113.9 665.6,1113.6 667.6,1113.4 669.6,1113.1 671.6,1112.9 673.6,1112.7 675.5,1112.4 677.5,1112.2 679.5,1112.0 681.5,1111.8 683.5,1111.6 685.5,1111.4 687.5,1111.3 689.5,1111.1 691.5,1110.9 693.5,1110.8 695.5,1110.6 697.4,1110.4 699.4,1110.3 701.4,1110.1 703.4,1110.0 705.4,1109.8 707.4,1109.6 709.4,1109.5 711.4,1109.3 713.4,1109.2 715.4,1109.0 717.4,1108.9 719.4,1108.7 721.4,1108.6 723.4,1108.4 725.4,1108.2 727.4,1108.1 729.4,1107.9 731.4,1107.8 733.4,1107.6 735.4,1107.5 737.4,1107.4 739.4,1107.3 741.4,1107.2 743.4,1107.1 745.4,1107.0 747.4,1107.0 749.4,1107.0 751.4,1107.0 753.4,1107.0 755.4,1107.0 757.4,1107.1 759.4,1107.2 761.4,1107.3 763.4,1107.4 765.4,1107.5 767.4,1107.6 769.3,1107.8 771.3,1107.9 773.3,1108.0 775.3,1108.2 777.3,1108.3 779.3,1108.5 781.3,1108.6 783.3,1108.7 785.3,1108.9 787.3,1109.0 789.3,1109.2 791.3,1109.3 793.3,1109.4 795.3,1109.6 797.3,1109.7 799.3,1109.9 801.3,1110.0 803.3,1110.2 805.3,1110.3 807.3,1110.4 809.3,1110.6 811.3,1110.7 813.3,1110.9 815.3,1111.0 817.2,1111.2 819.2,1111.3 821.2,1111.4 823.2,1111.6 825.2,1111.7 827.2,1111.9 829.2,1112.0 831.2,1112.2 833.2,1112.3 835.2,1112.4 837.2,1112.6 839.2,1112.7 841.2,1112.9 843.2,1113.0 845.2,1113.2 847.2,1113.3 849.2,1113.4 851.2,1113.6 853.2,1113.7 855.2,1113.9 857.2,1114.0 859.2,1114.2 861.2,1114.3 863.1,1114.5 865.1,1114.6 867.1,1114.8 869.1,1114.9 871.1,1115.1 873.1,1115.3 875.1,1115.4 877.1,1115.6 879.1,1115.7 881.1,1115.9 883.1,1116.0 885.1,1116.2 887.1,1116.3 889.1,1116.5 891.1,1116.6 893.1,1116.8 895.1,1116.9 897.1,1117.0 899.1,1117.1 901.1,1117.2 903.1,1117.3 905.1,1117.3 907.1,1117.4 909.1,1117.4 911.1,1117.4 913.1,1117.4 915.1,1117.4 917.1,1117.3 919.1,1117.3 921.1,1117.2 923.1,1117.2 925.1,1117.1 927.1,1117.0 929.1,1116.9 931.0,1116.8 933.0,1116.7 935.0,1116.6 937.0,1116.4 939.0,1116.3 941.0,1116.1 943.0,1115.9 945.0,1115.7 947.0,1115.5 949.0,1115.3 951.0,1115.0 952.9,1114.7 954.9,1114.4 956.9,1114.0 958.9,1113.7 960.8,1113.3 962.8,1112.9 964.7,1112.4 966.7,1112.0 968.6,1111.5 970.6,1111.0 972.5,1110.5 974.4,1110.0 976.4,1109.4 978.3,1108.9 980.2,1108.3 982.1,1107.7 984.0,1107.1 986.0,1106.5 987.9,1105.9 989.8,1105.3 991.7,1104.7 993.6,1104.0 995.4,1103.3 997.3,1102.6 999.2,1101.9 1001.0,1101.2 1002.9,1100.4 1004.7,1099.6 1006.5,1098.8 1008.3,1097.9 1010.1,1097.1 1011.9,1096.2 1013.7,1095.3 1015.5,1094.4 1017.3,1093.5 1019.1,1092.7 1020.9,1091.8 1022.7,1091.0 1024.5,1090.2 1026.4,1089.4 1028.3,1088.6 1030.1,1087.9 1032.0,1087.2 1034.0,1086.6 1035.9,1086.0 1037.9,1085.4 1039.8,1084.9 1041.8,1084.4 1043.7,1084.0 1045.7,1083.6 1047.7,1083.2 1049.7,1082.9 1051.7,1082.6 1053.6,1082.3 1055.6,1082.1 1057.6,1082.0 1059.6,1081.8 1061.6,1081.7 1063.6,1081.7 1065.6,1081.7 1067.6,1081.7 1069.5,1081.7 1071.5,1081.8 1073.5,1081.9 1075.5,1082.0 1077.5,1082.1 1079.5,1082.3 1081.5,1082.4 1083.5,1082.6 1085.5,1082.8 1087.5,1083.0 1089.5,1083.2 1091.5,1083.4 1093.4,1083.6 1095.4,1083.8 1097.4,1084.0 1099.4,1084.2 1101.4,1084.5 1103.4,1084.7 1105.4,1085.0 1107.4,1085.3 1109.3,1085.5 1111.3,1085.8 1113.3,1086.1 1115.3,1086.4 1117.3,1086.7 1119.2,1087.0 1121.2,1087.3 1123.2,1087.6 1125.2,1087.9 1127.2,1088.2 1129.1,1088.5 1131.1,1088.8 1133.1,1089.0 1135.1,1089.2 1137.1,1089.4 1139.1,1089.6 1141.1,1089.8 1143.0,1089.9 1145.0,1090.0 1147.0,1090.0 1149.0,1090.0 1151.0,1090.0 1153.0,1089.9 1155.0,1089.8 1157.0,1089.7 1159.0,1089.5 1161.0,1089.3 1163.0,1089.0 1164.9,1088.7 1166.9,1088.3 1168.9,1088.0 1170.8,1087.6 1172.8,1087.1 1174.7,1086.7 1176.7,1086.2 1178.6,1085.8 1180.6,1085.3 1182.5,1084.8 1184.4,1084.3 1186.4,1083.8 1188.3,1083.3 1190.2,1082.8 1192.1,1082.2 1194.1,1081.6 1196.0,1081.1 1197.9,1080.4 1199.8,1079.8 1201.7,1079.1 1203.5,1078.5 1205.4,1077.7 1207.2,1077.0 1209.1,1076.2 1210.9,1075.4 1212.7,1074.5 1214.5,1073.6 1216.3,1072.7 1218.1,1071.8 1219.8,1070.9 1221.6,1069.9 1223.3,1068.9 1225.1,1067.9 1226.8,1066.8 1228.5,1065.8 1230.1,1064.7 1231.8,1063.6 1233.4,1062.4 1235.1,1061.3 1236.7,1060.1 1238.3,1058.9 1239.8,1057.7 1241.4,1056.4 1243.0,1055.2 1244.5,1053.9 1246.0,1052.6 1247.6,1051.3 1249.1,1050.0 1250.6,1048.7 1252.1,1047.3 1253.5,1046.0 1255.0,1044.6 1256.5,1043.2 1257.9,1041.9 1259.4,1040.5 1260.8,1039.1 1262.2,1037.7 1263.6,1036.3 1265.0,1034.8 1266.4,1033.4 1267.8,1032.0 1269.2,1030.6 1270.6,1029.1 1272.1,1027.7 1273.5,1026.3 1274.9,1024.9 1276.3,1023.5 1277.7,1022.1 1279.2,1020.7 1280.6,1019.3 1282.1,1018.0 1283.6,1016.6 1285.0,1015.2 1286.5,1013.9 1288.0,1012.5 1289.5,1011.2 1290.9,1009.8 1292.4,1008.5 1293.9,1007.1 1295.4,1005.8 1296.8,1004.4 1298.3,1003.1 1299.8,1001.7 1301.3,1000.4 1302.7,999.0 1304.2,997.7 1305.7,996.3 1307.2,995.0 1308.7,993.6 1310.1,992.3 1311.6,991.0 1313.1,989.7 1314.7,988.3 1316.2,987.0 1317.7,985.8 1319.2,984.5 1320.8,983.2 1322.3,981.9 1323.9,980.7 1325.4,979.4 1327.0,978.2 1328.6,977.0 1330.2,975.8 1331.8,974.6 1333.4,973.4 1335.0,972.3 1336.7,971.1 1338.4,970.1 1340.1,969.0 1341.8,968.0 1343.6,967.1 1345.3,966.2 1347.1,965.3 1349.0,964.5 1350.8,963.8 1352.7,963.0 1354.6,962.4 1356.5,961.7 1358.4,961.1 1360.3,960.6 1362.2,960.1 1364.2,959.6 1366.1,959.2 1368.1,958.7 1370.0,958.4 1372.0,958.0 1374.0,957.7 1375.9,957.4 1377.9,957.1 1379.9,956.8 1381.9,956.6 1383.9,956.4 1385.9,956.2 1387.9,956.0 1389.8,955.8 1391.8,955.6 1393.8,955.5 1395.8,955.4 1397.8,955.2 1399.8,955.1 1401.8,955.0 1403.8,954.9 1405.8,954.8 1407.8,954.7 1409.8,954.6 1411.8,954.5 1413.8,954.4 1415.8,954.3 1417.8,954.2 1419.8,954.1 1421.8,954.0 1423.8,953.9 1425.8,953.8 1427.8,953.6 1429.8,953.5 1431.8,953.4 1433.8,953.2 1435.7,953.0 1437.7,952.7 1439.7,952.4 1441.7,952.1 1443.6,951.7 1445.6,951.3 1447.5,950.8 1449.4,950.3 1451.4,949.8 1453.3,949.2 1455.2,948.5 1457.1,947.9 1459.0,947.2 1460.8,946.5 1462.7,945.8 1464.6,945.1 1466.4,944.4 1468.3,943.7 1470.2,942.9 1472.0,942.2 1473.9,941.4 1475.7,940.6 1477.5,939.8 1479.4,939.0 1481.2,938.2 1483.0,937.3 1484.8,936.5 1486.6,935.6 1488.3,934.6 1490.1,933.7 1491.8,932.7 1493.6,931.7 1495.3,930.6 1497.0,929.6 1498.6,928.5 1500.3,927.4 1501.9,926.2 1503.6,925.1 1505.2,923.9 1506.8,922.7 1508.4,921.5 1510.0,920.3 1511.6,919.1 1513.2,917.8 1514.7,916.6 1516.3,915.3 1517.8,914.0 1519.3,912.7 1520.8,911.4 1522.3,910.1 1523.8,908.7 1525.3,907.4 1526.7,906.0 1528.2,904.6 1529.6,903.2 1531.0,901.8 1532.4,900.3 1533.7,898.9 1535.1,897.4 1536.4,895.9 1537.6,894.3 1538.9,892.8 1540.1,891.2 1541.2,889.6 1542.4,887.9 1543.5,886.3 1544.5,884.6 1545.6,882.9 1546.6,881.2 1547.6,879.4 1548.6,877.7 1549.6,876.0 1550.6,874.2 1551.6,872.5 1552.6,870.8 1553.6,869.0 1554.5,867.3 1555.5,865.5 1556.5,863.8 1557.4,862.0 1558.4,860.3 1559.4,858.5 1560.3,856.8 1561.3,855.0 1562.3,853.2 1563.2,851.5 1564.2,849.7 1565.1,848.0 1566.1,846.2 1567.1,844.5 1568.0,842.7 1568.9,840.9 1569.8,839.2 1570.8,837.4 1571.7,835.6 1572.6,833.8 1573.4,832.0 1574.3,830.2 1575.2,828.4 1576.1,826.6 1576.9,824.8 1577.7,823.0 1578.6,821.2 1579.4,819.3 1580.2,817.5 1581.1,815.7 1581.9,813.9 1582.7,812.0 1583.5,810.2 1584.3,808.4 1585.1,806.5 1585.9,804.7 1586.7,802.9 1587.4,801.0 1588.2,799.2 1589.0,797.3 1589.7,795.5 1590.5,793.6 1591.2,791.8 1592.0,789.9 1592.7,788.0 1593.5,786.2 1594.2,784.3 1594.9,782.4 1595.6,780.6 1596.3,778.7 1597.1,776.8 1597.8,775.0 1598.4,773.1 1599.1,771.2 1599.8,769.3 1600.5,767.4 1601.2,765.5 1601.8,763.7 1602.5,761.8 1603.1,759.9 1603.8,758.0 1604.4,756.1 1605.0,754.2 1605.7,752.3 1606.3,750.4 1606.9,748.5 1607.5,746.6 1608.1,744.7 1608.7,742.8 1609.3,740.8 1609.9,738.9 1610.5,737.0 1611.0,735.1 1611.6,733.2 1612.2,731.3 1612.8,729.3 1613.3,727.4 1613.9,725.5 1614.4,723.6 1615.0,721.7 1615.5,719.7 1616.1,717.8 1616.6,715.9 1617.2,714.0 1617.7,712.0 1618.3,710.1 1618.8,708.2 1619.3,706.2 1619.9,704.3 1620.4,702.4 1620.9,700.5 1621.4,698.5 1621.9,696.6 1622.5,694.7 1623.0,692.7 1623.5,690.8 1624.0,688.9 1624.5,686.9 1625.0,685.0 1625.5,683.0 1626.0,681.1 1626.5,679.2 1626.9,677.2 1627.4,675.3 1627.9,673.3 1628.4,671.4 1628.8,669.4 1629.3,667.5 1629.8,665.6 1630.3,663.6 1630.8,661.7 1631.2,659.7 1631.7,657.8 1632.3,655.9 1632.8,653.9 1633.3,652.0 1633.8,650.1 1634.4,648.2 1634.9,646.2 1635.4,644.3 1636.0,642.4 1636.5,640.5 1637.1,638.5 1637.7,636.6 1638.2,634.7 1638.8,632.8 1639.3,630.8 1639.9,628.9 1640.4,627.0 1641.0,625.1 1641.6,623.2 1642.1,621.2 1642.7,619.3 1643.2,617.4 1643.8,615.5 1644.3,613.5 1644.8,611.6 1645.4,609.7 1645.9,607.7 1646.4,605.8 1646.9,603.9 1647.5,602.0 1648.0,600.0 1648.5,598.1 1649.0,596.1 1649.5,594.2 1650.0,592.3 1650.5,590.3 1651.0,588.4 1651.4,586.4 1651.9,584.5 1652.4,582.6 1652.9,580.6 1653.4,578.7 1653.9,576.7 1654.4,574.8 1654.9,572.9 1655.4,570.9 1655.9,569.0 1656.3,567.0 1656.8,565.1 1657.3,563.2 1657.8,561.2 1658.3,559.3 1658.8,557.3 1659.2,555.4 1659.7,553.5 1660.2,551.5 1660.7,549.6 1661.2,547.6 1661.7,545.7 1662.1,543.7 1662.6,541.8 1663.1,539.9 1663.6,537.9 1664.0,536.0 1664.5,534.0 1665.0,532.1 1665.5,530.1 1665.9,528.2 1666.4,526.3 1666.9,524.3 1667.4,522.4 1667.8,520.4 1668.3,518.5 1668.8,516.5 1669.3,514.6 1669.7,512.6 1670.2,510.7 1670.7,508.8 1671.1,506.8 1671.6,504.9 1672.1,502.9 1672.5,501.0 1673.0,499.0 1673.5,497.1 1673.9,495.1 1674.4,493.2 1674.9,491.2 1675.3,489.3 1675.8,487.3 1676.2,485.4 1676.7,483.5 1677.2,481.5 1677.6,479.6 1678.1,477.6 1678.5,475.7 1679.0,473.7 1679.5,471.8 1679.9,469.8 1680.4,467.9 1680.8,465.9 1681.3,464.0 1681.7,462.0 1682.2,460.1 1682.6,458.1 1683.1,456.2 1683.6,454.2 1684.0,452.3 1684.5,450.3 1684.9,448.4 1685.4,446.4 1685.8,444.5 1686.3,442.5 1686.7,440.6 1687.2,438.6 1687.6,436.7 1688.1,434.7 1688.5,432.8 1688.9,430.8 1689.4,428.9 1689.8,426.9 1690.3,425.0 1690.7,423.0 1691.2,421.1 1691.6,419.1 1692.1,417.2 1692.5,415.2 1692.9,413.3 1693.4,411.3 1693.8,409.4 1694.3,407.4 1694.7,405.5 1695.1,403.5 1695.6,401.6 1696.0,399.6 1696.5,397.7 1696.9,395.7 1697.3,393.8 1697.8,391.8 1698.2,389.9 1698.6,387.9 1699.1,385.9 1699.5,384.0 1699.9,382.0 1700.4,380.1 1700.8,378.1 1701.2,376.2 1701.6,374.2 1702.1,372.3 1702.5,370.3 1702.9,368.4 1703.3,366.4 1703.7,364.4 1704.1,362.5 1704.5,360.5 1704.9,358.6 1705.3,356.6 1705.7,354.6 1706.1,352.7 1706.5,350.7 1706.9,348.8 1707.3,346.8 1707.7,344.8 1708.1,342.9 1708.5,340.9 1708.9,338.9 1709.3,337.0 1709.7,335.0 1710.1,333.1 1710.5,331.1 1710.9,329.1 1711.3,327.2 1711.6,325.2 1712.0,323.2 1712.4,321.3 1712.8,319.3 1713.2,317.4 1713.6,315.4 1714.0,313.4 1714.4,311.5 1714.8,309.5 1715.3,307.6 1715.7,305.6 1716.1,303.7 1716.5,301.7 1716.9,299.7 1717.3,297.8 1717.8,295.8 1718.2,293.9 1718.6,291.9 1719.0,290.0 1719.5,288.0 1719.9,286.1 1720.4,284.1 1720.8,282.2 1721.3,280.2 1721.7,278.3 1722.2,276.3 1722.6,274.4 1723.1,272.4 1723.5,270.5 1724.0,268.5 1724.5,266.6 1724.9,264.6 1725.4,262.7 1725.8,260.7 1726.3,258.8 1726.8,256.8 1727.2,254.9 1727.7,252.9 1728.2,251.0 1728.6,249.1 1729.1,247.1 1729.5,245.2 1730.0,243.2 1730.5,241.3 1730.9,239.3 1731.4,237.4 1731.9,235.4 1732.3,233.5 1732.8,231.5 1733.3,229.6 1733.7,227.6 1734.2,225.7 1734.6,223.8 1735.1,221.8 1735.6,219.9 1736.0,217.9 1736.5,216.0 1737.0,214.0 1737.4,212.1 1737.9,210.1 1738.4,208.2 1738.9,206.2 1739.3,204.3 1739.8,202.4 1740.3,200.4 1740.7,198.5 1741.2,196.5 1741.7,194.6 1742.1,192.6 1742.6,190.7 1743.1,188.7 1743.6,186.8 1744.0,184.9 1744.5,182.9 1745.0,181.0 1745.5,179.0 1745.9,177.1 1746.4,175.1 1746.9,173.2 1747.3,171.2 1747.8,169.3 1748.3,167.4 1748.8,165.4 1749.2,163.5 1749.7,161.5 1750.2,159.6 1750.7,157.6 1751.2,155.7 1751.6,153.8 1752.1,151.8 1752.6,149.9 1753.1,147.9 1753.5,146.0 1754.0,144.0 1754.5,142.1 1755.0,140.2 1755.5,138.2 1755.9,136.3 1756.4,134.3 1756.9,132.4 1757.4,130.4 1757.9,128.5 1758.4,126.6 1758.8,124.6 1759.3,122.7 1759.8,120.7 1760.3,118.8 1760.8,116.9 1761.2,114.9 1761.7,113.0 1762.2,111.0 1762.7,109.1 1763.2,107.1 1763.7,105.2 1764.1,103.3 1764.6,101.3 1765.1,99.4 1765.6,97.4 1766.1,95.5 1766.5,93.6 1767.0,91.6 1767.5,89.7 1768.0,87.7 1768.5,85.8 1769.0,83.8 1769.4,81.9 1769.9,80.0 1770.4,78.0 1770.9,76.1 1771.4,74.1 1771.9,72.2 1772.3,70.3 1772.8,68.3 1773.3,66.4 1773.8,64.4 1774.3,62.5 1774.7,60.5 1775.2,58.6 1775.7,56.7 1776.2,54.7 1776.7,52.8 1777.2,50.8 1777.6,48.9 1778.1,47.0 1778.6,45.0 1779.1,43.1 1779.6,41.1 1780.0,39.2 1780.5,37.2 1781.0,35.3 1781.5,33.4 1782.0,31.4 1782.5,29.5 1782.9,27.6 1783.4,25.7 1783.9,23.8 1784.3,21.9 1784.8,20.0 1785.3,18.1 1785.8,16.1 1786.3,14.1 1786.8,12.0"/>
<path stroke="#FFC000" d="M248.0,1094.0 250.2,1094.2 252.2,1094.3 254.2,1094.5 256.2,1094.7 258.1,1094.8 260.1,1095.0 262.0,1095.1 264.0,1095.3 266.0,1095.5 267.9,1095.7 269.9,1095.8 271.9,1096.0 273.9,1096.2 275.9,1096.3 277.9,1096.5 279.9,1096.7 281.9,1096.9 283.9,1097.0 285.9,1097.2 287.9,1097.4 289.9,1097.6 291.9,1097.7 293.8,1097.9 295.8,1098.1 297.8,1098.3 299.8,1098.4 301.8,1098.6 303.8,1098.8 305.8,1099.0 307.8,1099.2 309.8,1099.3 311.8,1099.5 313.8,1099.7 315.8,1099.9 317.8,1100.1 319.7,1100.3 321.7,1100.4 323.7,1100.6 325.7,1100.8 327.7,1101.0 329.7,1101.2 331.7,1101.4 333.7,1101.6 335.7,1101.7 337.7,1101.9 339.7,1102.1 341.7,1102.3 343.6,1102.5 345.6,1102.7 347.6,1102.8 349.6,1103.0 351.6,1103.2 353.6,1103.4 355.6,1103.5 357.6,1103.7 359.6,1103.9 361.6,1104.0 363.6,1104.2 365.6,1104.3 367.6,1104.5 369.6,1104.6 371.6,1104.7 373.6,1104.9 375.6,1105.0 377.6,1105.1 379.5,1105.3 381.5,1105.4 383.5,1105.5 385.5,1105.6 387.5,1105.7 389.5,1105.8 391.5,1105.9 393.5,1106.0 395.5,1106.1 397.5,1106.2 399.5,1106.4 401.5,1106.5 403.5,1106.6 405.5,1106.7 407.5,1106.8 409.5,1106.9 411.5,1107.0 413.5,1107.1 415.5,1107.3 417.5,1107.4 419.5,1107.5 421.5,1107.7 423.5,1107.8 425.5,1107.9 427.5,1108.1 429.5,1108.2 431.5,1108.4 433.5,1108.6 435.5,1108.7 437.5,1108.9 439.4,1109.0 441.4,1109.2 443.4,1109.3 445.4,1109.5 447.4,1109.6 449.4,1109.7 451.4,1109.9 453.4,1110.0 455.4,1110.1 457.4,1110.1 459.4,1110.2 461.4,1110.3 463.4,1110.3 465.4,1110.4 467.4,1110.4 469.4,1110.5 471.4,1110.5 473.4,1110.6 475.4,1110.6 477.4,1110.6 479.4,1110.7 481.4,1110.7 483.4,1110.8 485.4,1110.8 487.4,1110.8 489.4,1110.9 491.4,1110.9 493.4,1111.0 495.4,1111.0 497.4,1111.0 499.4,1111.1 501.4,1111.1 503.4,1111.2 505.4,1111.2 507.4,1111.2 509.4,1111.3 511.4,1111.3 513.4,1111.4 515.4,1111.4 517.4,1111.4 519.4,1111.5 521.4,1111.5 523.4,1111.6 525.4,1111.6 527.4,1111.6 529.4,1111.7 531.4,1111.7 533.4,1111.8 535.4,1111.8 537.4,1111.8 539.4,1111.9 541.4,1111.9 543.4,1112.0 545.4,1112.0 547.4,1112.0 549.4,1112.1 551.4,1112.1 553.4,1112.1 555.4,1112.2 557.4,1112.2 559.4,1112.3 561.4,1112.3 563.4,1112.3 565.4,1112.4 567.4,1112.4 569.4,1112.5 571.4,1112.5 573.4,1112.5 575.4,1112.6 577.4,1112.6 579.4,1112.6 581.4,1112.7 583.4,1112.7 585.4,1112.7 587.4,1112.7 589.4,1112.7 591.4,1112.7 593.4,1112.7 595.4,1112.7 597.4,1112.7 599.4,1112.7 601.4,1112.6 603.4,1112.6 605.4,1112.6 607.4,1112.5 609.4,1112.4 611.4,1112.4 613.4,1112.3 615.4,1112.2 617.4,1112.1 619.4,1112.0 621.4,1111.9 623.4,1111.8 625.4,1111.7 627.4,1111.6 629.4,1111.4 631.4,1111.3 633.4,1111.1 635.4,1111.0 637.4,1110.8 639.4,1110.6 641.4,1110.5 643.4,1110.3 645.4,1110.1 647.4,1109.9 649.4,1109.7 651.3,1109.4 653.3,1109.2 655.3,1109.0 657.3,1108.7 659.3,1108.5 661.3,1108.2 663.3,1108.0 665.2,1107.7 667.2,1107.5 669.2,1107.3 671.2,1107.0 673.2,1106.8 675.2,1106.6 677.2,1106.4 679.2,1106.2 681.1,1106.0 683.1,1105.8 685.1,1105.6 687.1,1105.4 689.1,1105.2 691.1,1105.1 693.1,1104.9 695.1,1104.7 697.1,1104.5 699.1,1104.3 701.1,1104.1 703.0,1103.9 705.0,1103.7 707.0,1103.5 709.0,1103.3 711.0,1103.1 713.0,1102.9 715.0,1102.7 717.0,1102.4 719.0,1102.2 720.9,1102.0 722.9,1101.8 724.9,1101.6 726.9,1101.4 728.9,1101.2 730.9,1101.0 732.9,1100.8 734.9,1100.6 736.9,1100.4 738.9,1100.2 740.9,1100.1 742.9,1100.0 744.9,1099.8 746.9,1099.7 748.9,1099.7 750.9,1099.6 752.9,1099.6 754.9,1099.5 756.9,1099.5 758.9,1099.6 760.9,1099.6 762.9,1099.7 764.8,1099.7 766.8,1099.8 768.8,1099.9 770.8,1100.0 772.8,1100.1 774.8,1100.2 776.8,1100.4 778.8,1100.5 780.8,1100.6 782.8,1100.8 784.8,1100.9 786.8,1101.1 788.8,1101.2 790.8,1101.4 792.8,1101.5 794.8,1101.7 796.8,1101.9 798.8,1102.0 800.8,1102.2 802.8,1102.3 804.8,1102.5 806.8,1102.7 808.8,1102.8 810.7,1103.0 812.7,1103.2 814.7,1103.4 816.7,1103.6 818.7,1103.7 820.7,1103.9 822.7,1104.1 824.7,1104.3 826.7,1104.5 828.7,1104.6 830.7,1104.8 832.7,1105.0 834.7,1105.2 836.6,1105.3 838.6,1105.5 840.6,1105.7 842.6,1105.8 844.6,1106.0 846.6,1106.1 848.6,1106.3 850.6,1106.4 852.6,1106.5 854.6,1106.6 856.6,1106.7 858.6,1106.8 860.6,1106.9 862.6,1107.0 864.6,1107.0 866.6,1107.1 868.6,1107.1 870.6,1107.2 872.6,1107.2 874.6,1107.2 876.6,1107.2 878.6,1107.3 880.6,1107.3 882.6,1107.3 884.6,1107.3 886.6,1107.3 888.6,1107.3 890.6,1107.3 892.6,1107.2 894.6,1107.2 896.6,1107.2 898.6,1107.2 900.6,1107.1 902.6,1107.1 904.6,1107.0 906.6,1107.0 908.6,1106.9 910.6,1106.8 912.6,1106.7 914.6,1106.6 916.6,1106.5 918.6,1106.4 920.6,1106.2 922.6,1106.1 924.6,1105.9 926.6,1105.7 928.6,1105.5 930.5,1105.2 932.5,1105.0 934.5,1104.7 936.5,1104.5 938.5,1104.2 940.4,1103.8 942.4,1103.5 944.4,1103.2 946.4,1102.8 948.3,1102.4 950.3,1102.0 952.3,1101.6 954.2,1101.2 956.2,1100.8 958.1,1100.4 960.1,1100.0 962.0,1099.5 964.0,1099.1 965.9,1098.6 967.9,1098.2 969.8,1097.7 971.8,1097.3 973.7,1096.8 975.7,1096.3 977.6,1095.9 979.6,1095.4 981.5,1094.9 983.4,1094.4 985.4,1093.9 987.3,1093.4 989.3,1093.0 991.2,1092.5 993.1,1092.0 995.1,1091.5 997.0,1090.9 998.9,1090.4 1000.9,1089.9 1002.8,1089.4 1004.7,1088.9 1006.6,1088.3 1008.5,1087.8 1010.5,1087.2 1012.4,1086.7 1014.3,1086.1 1016.2,1085.6 1018.1,1085.0 1020.1,1084.5 1022.0,1083.9 1023.9,1083.4 1025.9,1082.8 1027.8,1082.3 1029.7,1081.7 1031.7,1081.2 1033.6,1080.7 1035.6,1080.2 1037.5,1079.7 1039.5,1079.2 1041.5,1078.7 1043.4,1078.2 1045.4,1077.7 1047.4,1077.3 1049.3,1076.8 1051.3,1076.4 1053.3,1076.0 1055.3,1075.6 1057.2,1075.3 1059.2,1074.9 1061.2,1074.6 1063.2,1074.4 1065.2,1074.1 1067.1,1073.9 1069.1,1073.7 1071.1,1073.6 1073.1,1073.5 1075.1,1073.5 1077.1,1073.4 1079.1,1073.5 1081.1,1073.5 1083.0,1073.6 1085.0,1073.7 1087.0,1073.8 1089.0,1074.0 1091.0,1074.1 1093.0,1074.3 1095.0,1074.5 1097.0,1074.7 1099.0,1074.9 1101.0,1075.1 1103.0,1075.3 1104.9,1075.5 1106.9,1075.7 1108.9,1075.9 1110.9,1076.1 1112.9,1076.3 1114.9,1076.5 1116.9,1076.7 1118.9,1076.9 1120.9,1077.1 1122.9,1077.3 1124.9,1077.4 1126.9,1077.6 1128.8,1077.8 1130.8,1078.0 1132.8,1078.2 1134.8,1078.3 1136.8,1078.5 1138.8,1078.7 1140.8,1078.8 1142.8,1078.9 1144.8,1079.0 1146.8,1079.1 1148.8,1079.1 1150.8,1079.1 1152.8,1079.1 1154.7,1079.0 1156.7,1078.8 1158.7,1078.6 1160.7,1078.4 1162.7,1078.1 1164.7,1077.8 1166.6,1077.5 1168.6,1077.2 1170.6,1076.8 1172.6,1076.5 1174.5,1076.1 1176.5,1075.8 1178.5,1075.4 1180.4,1075.0 1182.4,1074.6 1184.4,1074.2 1186.3,1073.7 1188.2,1073.2 1190.1,1072.7 1192.0,1072.1 1193.9,1071.4 1195.7,1070.6 1197.5,1069.7 1199.2,1068.8 1200.9,1067.8 1202.5,1066.7 1204.1,1065.5 1205.7,1064.2 1207.2,1062.9 1208.6,1061.5 1210.1,1060.1 1211.5,1058.7 1212.8,1057.3 1214.2,1055.8 1215.6,1054.3 1216.9,1052.8 1218.2,1051.3 1219.6,1049.8 1220.9,1048.3 1222.2,1046.8 1223.5,1045.3 1224.8,1043.8 1226.1,1042.2 1227.4,1040.7 1228.7,1039.2 1229.9,1037.7 1231.2,1036.1 1232.5,1034.6 1233.8,1033.0 1235.0,1031.5 1236.3,1029.9 1237.5,1028.3 1238.7,1026.8 1239.9,1025.2 1241.1,1023.6 1242.3,1021.9 1243.5,1020.3 1244.6,1018.7 1245.7,1017.0 1246.8,1015.4 1248.0,1013.7 1249.0,1012.0 1250.1,1010.3 1251.2,1008.7 1252.3,1007.0 1253.4,1005.3 1254.5,1003.6 1255.6,1001.9 1256.7,1000.3 1257.7,998.6 1258.8,996.9 1259.9,995.2 1261.0,993.6 1262.1,991.9 1263.2,990.2 1264.3,988.5 1265.4,986.9 1266.5,985.2 1267.6,983.5 1268.6,981.8 1269.7,980.1 1270.8,978.4 1271.8,976.7 1272.9,975.0 1273.9,973.3 1274.9,971.6 1275.9,969.8 1276.9,968.1 1277.9,966.4 1278.9,964.6 1279.9,962.9 1280.9,961.1 1281.8,959.4 1282.8,957.7 1283.8,955.9 1284.8,954.2 1285.8,952.4 1286.8,950.7 1287.8,949.0 1288.8,947.3 1289.9,945.6 1290.9,943.9 1292.0,942.2 1293.1,940.5 1294.2,938.8 1295.3,937.1 1296.4,935.5 1297.5,933.8 1298.7,932.2 1299.8,930.6 1301.0,928.9 1302.2,927.3 1303.3,925.7 1304.5,924.1 1305.7,922.5 1306.9,920.9 1308.1,919.3 1309.3,917.7 1310.5,916.1 1311.7,914.5 1312.9,912.9 1314.1,911.3 1315.3,909.7 1316.6,908.1 1317.8,906.5 1319.0,905.0 1320.3,903.4 1321.5,901.8 1322.8,900.3 1324.0,898.7 1325.3,897.2 1326.7,895.7 1328.0,894.3 1329.4,892.8 1330.8,891.4 1332.2,890.0 1333.7,888.7 1335.2,887.5 1336.8,886.3 1338.4,885.1 1340.1,884.1 1341.8,883.1 1343.6,882.2 1345.4,881.4 1347.2,880.6 1349.1,880.0 1351.0,879.4 1352.9,878.9 1354.8,878.5 1356.8,878.2 1358.8,878.0 1360.7,877.8 1362.7,877.7 1364.7,877.7 1366.7,877.7 1368.7,877.8 1370.7,878.0 1372.6,878.3 1374.6,878.6 1376.5,879.1 1378.4,879.6 1380.3,880.2 1382.1,881.0 1383.9,881.8 1385.7,882.6 1387.5,883.6 1389.2,884.6 1390.9,885.6 1392.6,886.7 1394.3,887.7 1395.9,888.8 1397.6,889.9 1399.3,891.0 1400.9,892.1 1402.6,893.2 1404.2,894.3 1405.9,895.5 1407.6,896.6 1409.2,897.7 1410.9,898.7 1412.6,899.8 1414.3,900.9 1416.0,902.0 1417.7,903.0 1419.4,904.0 1421.1,905.0 1422.8,906.0 1424.6,907.0 1426.3,908.0 1428.1,908.9 1429.9,909.9 1431.7,910.7 1433.5,911.6 1435.3,912.5 1437.1,913.3 1439.0,914.0 1440.8,914.8 1442.7,915.4 1444.6,916.1 1446.5,916.7 1448.4,917.2 1450.3,917.7 1452.3,918.1 1454.2,918.5 1456.2,918.9 1458.2,919.2 1460.2,919.4 1462.1,919.6 1464.1,919.8 1466.1,919.9 1468.1,920.0 1470.1,920.0 1472.1,920.0 1474.1,919.9 1476.1,919.8 1478.1,919.7 1480.1,919.5 1482.0,919.2 1484.0,918.9 1486.0,918.6 1487.9,918.2 1489.9,917.7 1491.8,917.3 1493.8,916.8 1495.7,916.2 1497.6,915.7 1499.5,915.1 1501.4,914.4 1503.3,913.8 1505.1,913.0 1507.0,912.3 1508.8,911.5 1510.7,910.7 1512.5,909.8 1514.2,908.9 1516.0,908.0 1517.8,907.0 1519.5,906.0 1521.2,905.0 1522.9,904.0 1524.6,902.9 1526.3,901.8 1527.9,900.7 1529.6,899.6 1531.2,898.4 1532.8,897.2 1534.5,896.1 1536.0,894.9 1537.6,893.6 1539.2,892.4 1540.7,891.1 1542.3,889.8 1543.8,888.5 1545.3,887.2 1546.7,885.8 1548.1,884.4 1549.5,883.0 1550.9,881.5 1552.2,880.1 1553.6,878.6 1554.8,877.0 1556.1,875.5 1557.3,873.9 1558.5,872.3 1559.7,870.7 1560.8,869.0 1561.9,867.3 1562.9,865.6 1563.9,863.9 1564.9,862.2 1565.8,860.4 1566.7,858.6 1567.6,856.8 1568.4,855.0 1569.2,853.2 1569.9,851.3 1570.7,849.4 1571.4,847.6 1572.1,845.7 1572.9,843.9 1573.6,842.0 1574.3,840.1 1575.0,838.3 1575.8,836.4 1576.5,834.6 1577.3,832.7 1578.1,830.9 1578.9,829.1 1579.8,827.3 1580.6,825.5 1581.5,823.7 1582.4,821.9 1583.3,820.1 1584.2,818.3 1585.1,816.5 1586.1,814.8 1587.0,813.0 1587.9,811.2 1588.8,809.4 1589.7,807.6 1590.6,805.8 1591.5,804.1 1592.4,802.3 1593.3,800.5 1594.1,798.6 1594.9,796.8 1595.8,795.0 1596.5,793.2 1597.3,791.3 1598.1,789.5 1598.8,787.6 1599.5,785.7 1600.2,783.9 1600.9,782.0 1601.6,780.1 1602.3,778.2 1603.0,776.4 1603.7,774.5 1604.3,772.6 1605.0,770.7 1605.7,768.8 1606.4,766.9 1607.0,765.1 1607.7,763.2 1608.4,761.3 1609.0,759.4 1609.7,757.5 1610.4,755.6 1611.1,753.7 1611.7,751.9 1612.4,750.0 1613.1,748.1 1613.8,746.2 1614.4,744.3 1615.1,742.5 1615.8,740.6 1616.5,738.7 1617.2,736.8 1617.9,735.0 1618.6,733.1 1619.3,731.2 1620.1,729.3 1620.8,727.5 1621.5,725.6 1622.2,723.7 1622.9,721.9 1623.7,720.0 1624.4,718.2 1625.1,716.3 1625.8,714.4 1626.6,712.6 1627.3,710.7 1628.0,708.8 1628.7,707.0 1629.5,705.1 1630.2,703.2 1630.9,701.3 1631.6,699.5 1632.3,697.6 1632.9,695.7 1633.6,693.8 1634.3,692.0 1634.9,690.1 1635.6,688.2 1636.2,686.3 1636.9,684.4 1637.5,682.5 1638.1,680.6 1638.6,678.6 1639.2,676.7 1639.8,674.8 1640.3,672.9 1640.8,671.0 1641.4,669.0 1641.9,667.1 1642.4,665.2 1642.9,663.2 1643.4,661.3 1643.9,659.4 1644.4,657.4 1645.0,655.5 1645.5,653.6 1646.0,651.6 1646.6,649.7 1647.1,647.8 1647.6,645.8 1648.2,643.9 1648.7,642.0 1649.2,640.1 1649.8,638.1 1650.3,636.2 1650.8,634.3 1651.4,632.3 1651.9,630.4 1652.4,628.5 1653.0,626.6 1653.5,624.6 1654.0,622.7 1654.6,620.8 1655.1,618.9 1655.6,616.9 1656.2,615.0 1656.7,613.1 1657.2,611.1 1657.8,609.2 1658.3,607.3 1658.8,605.4 1659.4,603.4 1659.9,601.5 1660.4,599.6 1660.9,597.6 1661.5,595.7 1662.0,593.8 1662.5,591.9 1663.1,589.9 1663.6,588.0 1664.1,586.1 1664.7,584.1 1665.2,582.2 1665.7,580.3 1666.3,578.4 1666.8,576.4 1667.3,574.5 1667.8,572.6 1668.4,570.6 1668.9,568.7 1669.4,566.8 1670.0,564.8 1670.5,562.9 1671.0,561.0 1671.5,559.1 1672.1,557.1 1672.6,555.2 1673.1,553.3 1673.7,551.3 1674.2,549.4 1674.7,547.5 1675.2,545.6 1675.8,543.6 1676.3,541.7 1676.8,539.8 1677.4,537.8 1677.9,535.9 1678.4,534.0 1678.9,532.0 1679.5,530.1 1680.0,528.2 1680.5,526.3 1681.0,524.3 1681.6,522.4 1682.1,520.5 1682.6,518.5 1683.2,516.6 1683.7,514.7 1684.2,512.7 1684.7,510.8 1685.3,508.9 1685.8,507.0 1686.3,505.0 1686.8,503.1 1687.4,501.2 1687.9,499.2 1688.4,497.3 1688.9,495.4 1689.5,493.4 1690.0,491.5 1690.5,489.6 1691.0,487.7 1691.6,485.7 1692.1,483.8 1692.6,481.9 1693.1,479.9 1693.7,478.0 1694.2,476.1 1694.7,474.1 1695.2,472.2 1695.7,470.3 1696.3,468.3 1696.8,466.4 1697.3,464.5 1697.8,462.6 1698.4,460.6 1698.9,458.7 1699.4,456.8 1699.9,454.8 1700.5,452.9 1701.0,451.0 1701.5,449.0 1702.0,447.1 1702.5,445.2 1703.1,443.2 1703.6,441.3 1704.1,439.4 1704.6,437.4 1705.2,435.5 1705.7,433.6 1706.2,431.7 1706.7,429.7 1707.2,427.8 1707.8,425.9 1708.3,423.9 1708.8,422.0 1709.3,420.1 1709.8,418.1 1710.4,416.2 1710.9,414.3 1711.4,412.3 1711.9,410.4 1712.4,408.5 1713.0,406.5 1713.5,404.6 1714.0,402.7 1714.5,400.7 1715.0,398.8 1715.6,396.9 1716.1,395.0 1716.6,393.0 1717.1,391.1 1717.6,389.2 1718.2,387.2 1718.7,385.3 1719.2,383.4 1719.7,381.4 1720.2,379.5 1720.7,377.6 1721.2,375.6 1721.7,373.7 1722.2,371.7 1722.7,369.8 1723.2,367.9 1723.6,365.9 1724.1,364.0 1724.6,362.0 1725.0,360.1 1725.5,358.1 1725.9,356.2 1726.4,354.2 1726.8,352.3 1727.3,350.3 1727.7,348.4 1728.1,346.4 1728.6,344.5 1729.0,342.5 1729.4,340.6 1729.9,338.6 1730.3,336.7 1730.7,334.7 1731.1,332.7 1731.6,330.8 1732.0,328.8 1732.4,326.9 1732.8,324.9 1733.3,323.0 1733.7,321.0 1734.1,319.0 1734.5,317.1 1735.0,315.1 1735.4,313.2 1735.8,311.2 1736.3,309.3 1736.7,307.3 1737.1,305.4 1737.6,303.4 1738.0,301.5 1738.5,299.5 1739.0,297.6 1739.4,295.6 1739.9,293.7 1740.4,291.7 1740.8,289.8 1741.3,287.9 1741.8,285.9 1742.3,284.0 1742.8,282.1 1743.3,280.1 1743.8,278.2 1744.3,276.2 1744.8,274.3 1745.4,272.4 1745.9,270.5 1746.4,268.5 1746.9,266.6 1747.5,264.7 1748.0,262.7 1748.5,260.8 1749.1,258.9 1749.6,257.0 1750.2,255.0 1750.7,253.1 1751.2,251.2 1751.8,249.3 1752.3,247.3 1752.9,245.4 1753.4,243.5 1754.0,241.6 1754.5,239.6 1755.1,237.7 1755.7,235.8 1756.2,233.9 1756.8,231.9 1757.3,230.0 1757.9,228.1 1758.4,226.2 1759.0,224.3 1759.6,222.3 1760.1,220.4 1760.7,218.5 1761.2,216.6 1761.8,214.7 1762.4,212.7 1762.9,210.8 1763.5,208.9 1764.1,207.0 1764.6,205.1 1765.2,203.1 1765.7,201.2 1766.3,199.3 1766.9,197.4 1767.4,195.5 1768.0,193.5 1768.6,191.6 1769.1,189.7 1769.7,187.8 1770.2,185.9 1770.8,183.9 1771.4,182.0 1771.9,180.1 1772.5,178.2 1773.0,176.3 1773.6,174.3 1774.1,172.4 1774.7,170.5 1775.2,168.6 1775.8,166.6 1776.3,164.7 1776.9,162.8 1777.4,160.9 1778.0,158.9 1778.5,157.0 1779.0,155.1 1779.6,153.2 1780.1,151.2 1780.7,149.3 1781.2,147.4 1781.7,145.4 1782.2,143.5 1782.8,141.6 1783.3,139.7 1783.8,137.7 1784.3,135.8 1784.9,133.9 1785.4,131.9 1785.9,130.0 1786.4,128.1 1786.9,126.1 1787.4,124.2 1787.9,122.3 1788.4,120.3 1789.0,118.4 1789.5,116.5 1790.0,114.5 1790.5,112.6 1791.0,110.7 1791.5,108.7 1792.0,106.8 1792.5,104.9 1793.0,102.9 1793.5,101.0 1794.0,99.0 1794.5,97.1 1795.1,95.2 1795.6,93.2 1796.1,91.3 1796.6,89.4 1797.1,87.4 1797.6,85.5 1798.1,83.6 1798.6,81.6 1799.1,79.7 1799.6,77.8 1800.1,75.8 1800.6,73.9 1801.1,72.0 1801.7,70.0 1802.2,68.1 1802.7,66.2 1803.2,64.2 1803.7,62.3 1804.2,60.3 1804.7,58.4 1805.2,56.5 1805.7,54.5 1806.2,52.6 1806.7,50.7 1807.3,48.7 1807.8,46.8 1808.3,44.9 1808.8,42.9 1809.3,41.0 1809.8,39.1 1810.3,37.1 1810.8,35.2 1811.4,33.3 1811.9,31.3 1812.4,29.4 1812.9,27.5 1813.4,25.6 1813.9,23.7 1814.4,21.8 1814.9,19.9 1815.4,18.1 1815.9,16.1 1816.4,14.1 1817.0,12.0"/>
<path stroke="#FF00FF" d="M248.0,1123.4 250.2,1123.4 252.3,1123.4 254.3,1123.5 256.2,1123.6 258.2,1123.7 260.1,1123.8 262.1,1123.9 264.0,1124.0 266.0,1124.2 268.0,1124.3 270.0,1124.4 272.0,1124.5 274.0,1124.7 276.0,1124.8 278.0,1124.9 280.0,1125.0 282.0,1125.2 284.0,1125.3 286.0,1125.4 288.0,1125.5 289.9,1125.6 291.9,1125.7 293.9,1125.8 295.9,1125.9 297.9,1126.0 299.9,1126.0 301.9,1126.1 303.9,1126.2 305.9,1126.2 307.9,1126.3 309.9,1126.3 311.9,1126.3 313.9,1126.4 315.9,1126.4 317.9,1126.5 319.9,1126.5 321.9,1126.6 323.9,1126.6 325.9,1126.7 327.9,1126.7 329.9,1126.7 331.9,1126.8 333.9,1126.8 335.9,1126.9 337.9,1126.9 339.9,1127.0 341.9,1127.0 343.9,1127.0 345.9,1127.1 347.9,1127.1 349.9,1127.2 351.9,1127.2 353.9,1127.3 355.9,1127.3 357.9,1127.3 359.9,1127.4 361.9,1127.4 363.9,1127.4 365.9,1127.5 367.9,1127.5 369.9,1127.6 371.9,1127.6 373.9,1127.6 375.9,1127.7 377.9,1127.7 379.9,1127.7 381.9,1127.7 383.9,1127.8 385.9,1127.8 387.9,1127.8 390.0,1127.9 392.0,1127.9 394.0,1127.9 396.0,1128.0 398.0,1128.0 400.0,1128.0 402.0,1128.1 404.0,1128.1 406.0,1128.2 408.0,1128.2 410.0,1128.3 412.0,1128.3 414.0,1128.4 416.0,1128.4 418.0,1128.5 419.9,1128.6 421.9,1128.7 423.9,1128.8 425.9,1128.9 427.9,1129.0 429.9,1129.1 431.9,1129.2 433.9,1129.4 435.9,1129.5 437.9,1129.7 439.9,1129.8 441.9,1130.0 443.9,1130.2 445.9,1130.4 447.9,1130.5 449.9,1130.7 451.9,1130.9 453.9,1131.1 455.9,1131.2 457.9,1131.4 459.8,1131.6 461.8,1131.7 463.8,1131.9 465.8,1132.0 467.8,1132.2 469.8,1132.3 471.8,1132.5 473.8,1132.7 475.8,1132.8 477.8,1133.0 479.8,1133.1 481.8,1133.3 483.8,1133.4 485.8,1133.5 487.8,1133.7 489.8,1133.8 491.8,1134.0 493.8,1134.1 495.8,1134.3 497.8,1134.4 499.7,1134.6 501.7,1134.7 503.7,1134.8 505.7,1134.9 507.7,1135.0 509.7,1135.1 511.7,1135.2 513.7,1135.2 515.7,1135.3 517.7,1135.3 519.7,1135.2 521.7,1135.2 523.7,1135.1 525.7,1135.0 527.7,1134.9 529.7,1134.7 531.7,1134.5 533.7,1134.3 535.7,1134.0 537.7,1133.8 539.7,1133.5 541.6,1133.2 543.6,1132.8 545.6,1132.5 547.6,1132.1 549.5,1131.6 551.5,1131.2 553.4,1130.7 555.4,1130.2 557.3,1129.7 559.2,1129.1 561.1,1128.6 563.0,1127.9 564.9,1127.3 566.8,1126.7 568.7,1126.0 570.6,1125.3 572.4,1124.6 574.3,1123.9 576.2,1123.2 578.0,1122.4 579.9,1121.7 581.8,1121.0 583.7,1120.3 585.5,1119.7 587.4,1119.0 589.3,1118.4 591.2,1117.8 593.1,1117.2 595.1,1116.6 597.0,1116.0 598.9,1115.5 600.8,1114.9 602.8,1114.4 604.7,1113.9 606.6,1113.4 608.6,1113.0 610.5,1112.5 612.5,1112.1 614.5,1111.7 616.4,1111.3 618.4,1110.9 620.4,1110.6 622.4,1110.2 624.3,1109.9 626.3,1109.6 628.3,1109.3 630.3,1109.1 632.3,1108.8 634.3,1108.6 636.3,1108.4 638.3,1108.1 640.2,1107.9 642.2,1107.7 644.2,1107.6 646.2,1107.4 648.2,1107.3 650.2,1107.1 652.2,1107.0 654.2,1106.9 656.2,1106.8 658.2,1106.7 660.2,1106.6 662.2,1106.5 664.2,1106.4 666.2,1106.4 668.2,1106.3 670.2,1106.2 672.2,1106.2 674.2,1106.2 676.2,1106.1 678.2,1106.1 680.2,1106.1 682.2,1106.1 684.2,1106.2 686.2,1106.2 688.2,1106.2 690.2,1106.3 692.2,1106.4 694.2,1106.5 696.2,1106.6 698.2,1106.7 700.2,1106.9 702.2,1107.1 704.1,1107.2 706.1,1107.4 708.1,1107.6 710.1,1107.8 712.1,1108.0 714.1,1108.2 716.1,1108.4 718.1,1108.6 720.1,1108.7 722.1,1108.9 724.1,1109.0 726.1,1109.1 728.1,1109.3 730.1,1109.4 732.1,1109.5 734.1,1109.6 736.0,1109.8 738.0,1109.9 740.0,1110.0 742.0,1110.1 744.0,1110.2 746.0,1110.4 748.0,1110.5 750.0,1110.6 752.0,1110.8 754.0,1110.9 756.0,1111.1 758.0,1111.2 760.0,1111.4 762.0,1111.6 764.0,1111.8 766.0,1112.0 768.0,1112.2 769.9,1112.4 771.9,1112.6 773.9,1112.9 775.9,1113.1 777.9,1113.3 779.9,1113.6 781.9,1113.8 783.8,1114.1 785.8,1114.3 787.8,1114.5 789.8,1114.8 791.8,1115.0 793.8,1115.2 795.8,1115.4 797.8,1115.6 799.8,1115.8 801.8,1116.0 803.8,1116.1 805.8,1116.3 807.8,1116.4 809.7,1116.5 811.7,1116.7 813.7,1116.8 815.7,1116.9 817.7,1117.0 819.7,1117.1 821.7,1117.2 823.7,1117.3 825.7,1117.3 827.7,1117.4 829.7,1117.5 831.7,1117.5 833.7,1117.6 835.7,1117.6 837.7,1117.7 839.7,1117.7 841.7,1117.7 843.7,1117.7 845.7,1117.8 847.7,1117.8 849.7,1117.8 851.7,1117.8 853.7,1117.8 855.7,1117.8 857.7,1117.8 859.7,1117.7 861.7,1117.7 863.7,1117.7 865.7,1117.7 867.7,1117.6 869.7,1117.6 871.7,1117.6 873.7,1117.5 875.7,1117.5 877.7,1117.4 879.7,1117.3 881.7,1117.3 883.7,1117.2 885.7,1117.1 887.7,1117.0 889.7,1116.9 891.7,1116.8 893.7,1116.7 895.7,1116.5 897.7,1116.4 899.7,1116.3 901.7,1116.1 903.7,1115.9 905.7,1115.8 907.7,1115.6 909.7,1115.4 911.7,1115.3 913.7,1115.1 915.7,1114.9 917.7,1114.7 919.7,1114.5 921.6,1114.3 923.6,1114.1 925.6,1114.0 927.6,1113.8 929.6,1113.6 931.6,1113.4 933.6,1113.2 935.6,1112.9 937.6,1112.7 939.6,1112.5 941.5,1112.3 943.5,1112.0 945.5,1111.8 947.5,1111.5 949.5,1111.3 951.5,1111.0 953.4,1110.7 955.4,1110.4 957.4,1110.1 959.4,1109.8 961.3,1109.5 963.3,1109.1 965.3,1108.8 967.3,1108.4 969.2,1108.0 971.2,1107.7 973.2,1107.3 975.1,1106.9 977.1,1106.5 979.0,1106.1 981.0,1105.7 983.0,1105.3 984.9,1104.9 986.9,1104.5 988.8,1104.1 990.8,1103.7 992.8,1103.3 994.7,1102.9 996.7,1102.4 998.6,1102.0 1000.6,1101.6 1002.5,1101.2 1004.5,1100.7 1006.4,1100.3 1008.4,1099.9 1010.3,1099.4 1012.3,1099.0 1014.3,1098.6 1016.2,1098.1 1018.2,1097.7 1020.1,1097.2 1022.1,1096.8 1024.0,1096.4 1026.0,1095.9 1027.9,1095.5 1029.9,1095.1 1031.8,1094.7 1033.8,1094.3 1035.8,1093.9 1037.7,1093.5 1039.7,1093.1 1041.7,1092.7 1043.6,1092.3 1045.6,1092.0 1047.6,1091.6 1049.5,1091.3 1051.5,1091.0 1053.5,1090.7 1055.5,1090.4 1057.5,1090.1 1059.5,1089.9 1061.4,1089.7 1063.4,1089.5 1065.4,1089.3 1067.4,1089.1 1069.4,1089.0 1071.4,1088.8 1073.4,1088.7 1075.4,1088.6 1077.4,1088.5 1079.4,1088.4 1081.4,1088.3 1083.4,1088.2 1085.4,1088.1 1087.4,1088.1 1089.4,1088.0 1091.4,1087.9 1093.4,1087.8 1095.4,1087.7 1097.4,1087.6 1099.4,1087.5 1101.4,1087.4 1103.4,1087.3 1105.4,1087.2 1107.4,1087.1 1109.4,1087.0 1111.4,1086.9 1113.4,1086.9 1115.4,1086.8 1117.4,1086.7 1119.4,1086.6 1121.4,1086.6 1123.4,1086.6 1125.4,1086.5 1127.4,1086.5 1129.4,1086.5 1131.4,1086.5 1133.4,1086.5 1135.4,1086.5 1137.4,1086.5 1139.3,1086.4 1141.3,1086.4 1143.3,1086.3 1145.3,1086.2 1147.3,1086.0 1149.3,1085.8 1151.3,1085.6 1153.2,1085.3 1155.2,1084.9 1157.2,1084.5 1159.1,1084.1 1161.1,1083.6 1163.0,1083.1 1164.9,1082.5 1166.8,1081.8 1168.6,1081.1 1170.5,1080.3 1172.3,1079.5 1174.1,1078.6 1175.9,1077.7 1177.6,1076.7 1179.3,1075.7 1181.0,1074.6 1182.7,1073.5 1184.4,1072.4 1186.0,1071.2 1187.6,1070.0 1189.1,1068.8 1190.6,1067.5 1192.1,1066.1 1193.5,1064.7 1194.9,1063.3 1196.3,1061.8 1197.6,1060.3 1198.9,1058.8 1200.1,1057.2 1201.3,1055.7 1202.5,1054.1 1203.7,1052.5 1204.9,1050.9 1206.1,1049.2 1207.2,1047.6 1208.4,1046.0 1209.5,1044.3 1210.6,1042.7 1211.8,1041.0 1212.9,1039.4 1214.0,1037.7 1215.1,1036.1 1216.2,1034.4 1217.4,1032.7 1218.5,1031.1 1219.6,1029.4 1220.7,1027.7 1221.7,1026.0 1222.8,1024.4 1223.9,1022.7 1224.9,1021.0 1226.0,1019.3 1227.0,1017.5 1228.0,1015.8 1229.0,1014.1 1230.0,1012.3 1230.9,1010.6 1231.9,1008.8 1232.8,1007.0 1233.6,1005.2 1234.5,1003.4 1235.3,1001.6 1236.1,999.7 1236.9,997.9 1237.7,996.1 1238.4,994.2 1239.2,992.4 1239.9,990.5 1240.6,988.6 1241.3,986.8 1242.0,984.9 1242.8,983.0 1243.5,981.1 1244.1,979.3 1244.8,977.4 1245.5,975.5 1246.2,973.6 1246.9,971.8 1247.6,969.9 1248.3,968.0 1249.0,966.1 1249.7,964.2 1250.3,962.4 1251.0,960.5 1251.7,958.6 1252.4,956.7 1253.1,954.8 1253.7,952.9 1254.4,951.1 1255.1,949.2 1255.7,947.3 1256.4,945.4 1257.0,943.5 1257.7,941.6 1258.3,939.7 1259.0,937.8 1259.6,935.9 1260.3,934.0 1260.9,932.1 1261.5,930.2 1262.2,928.3 1262.8,926.4 1263.4,924.5 1264.0,922.6 1264.6,920.7 1265.3,918.8 1265.9,916.9 1266.5,915.0 1267.1,913.1 1267.8,911.2 1268.4,909.3 1269.0,907.4 1269.6,905.5 1270.3,903.6 1270.9,901.7 1271.6,899.9 1272.2,898.0 1272.9,896.1 1273.5,894.2 1274.2,892.3 1274.8,890.4 1275.5,888.5 1276.2,886.6 1276.8,884.7 1277.5,882.8 1278.1,880.9 1278.8,879.1 1279.4,877.2 1280.1,875.3 1280.7,873.4 1281.4,871.5 1282.1,869.6 1282.7,867.7 1283.4,865.8 1284.0,863.9 1284.7,862.1 1285.3,860.2 1286.0,858.3 1286.7,856.4 1287.3,854.5 1288.0,852.6 1288.6,850.7 1289.3,848.8 1289.9,846.9 1290.6,845.0 1291.3,843.2 1291.9,841.3 1292.6,839.4 1293.2,837.5 1293.9,835.6 1294.5,833.7 1295.2,831.8 1295.9,829.9 1296.5,828.0 1297.2,826.1 1297.8,824.3 1298.5,822.4 1299.2,820.5 1299.9,818.6 1300.5,816.7 1301.2,814.9 1301.9,813.0 1302.6,811.1 1303.3,809.2 1304.1,807.4 1304.8,805.5 1305.5,803.7 1306.3,801.8 1307.0,800.0 1307.8,798.1 1308.6,796.3 1309.3,794.4 1310.1,792.6 1310.9,790.7 1311.7,788.9 1312.5,787.1 1313.3,785.2 1314.1,783.4 1315.0,781.6 1315.8,779.8 1316.7,778.0 1317.6,776.2 1318.5,774.4 1319.5,772.7 1320.5,771.0 1321.5,769.2 1322.5,767.5 1323.6,765.8 1324.7,764.2 1325.8,762.5 1327.0,760.9 1328.1,759.3 1329.4,757.8 1330.7,756.3 1332.0,754.8 1333.4,753.4 1334.9,752.1 1336.5,750.8 1338.1,749.6 1339.8,748.6 1341.5,747.6 1343.3,746.8 1345.1,746.1 1346.9,745.6 1348.7,745.2 1350.6,745.1 1352.5,745.0 1354.4,745.2 1356.2,745.5 1358.1,746.0 1359.9,746.6 1361.7,747.4 1363.5,748.3 1365.2,749.3 1366.9,750.4 1368.5,751.6 1370.1,752.9 1371.6,754.3 1373.0,755.6 1374.4,757.1 1375.7,758.5 1377.0,760.0 1378.3,761.5 1379.6,763.1 1380.8,764.6 1382.0,766.2 1383.2,767.8 1384.4,769.4 1385.6,771.0 1386.7,772.6 1387.9,774.3 1389.0,775.9 1390.0,777.6 1391.1,779.3 1392.1,781.0 1393.2,782.7 1394.2,784.5 1395.2,786.2 1396.1,787.9 1397.1,789.7 1398.1,791.4 1399.0,793.2 1400.0,795.0 1400.9,796.7 1401.9,798.5 1402.9,800.2 1403.8,802.0 1404.8,803.7 1405.8,805.5 1406.7,807.2 1407.7,809.0 1408.7,810.7 1409.7,812.4 1410.7,814.2 1411.7,815.9 1412.7,817.6 1413.7,819.4 1414.7,821.1 1415.7,822.8 1416.8,824.5 1417.8,826.3 1418.8,828.0 1419.8,829.7 1420.8,831.4 1421.9,833.1 1422.9,834.8 1423.9,836.5 1425.0,838.3 1426.0,840.0 1427.1,841.7 1428.2,843.4 1429.2,845.0 1430.3,846.7 1431.4,848.4 1432.5,850.1 1433.6,851.8 1434.7,853.4 1435.8,855.1 1436.9,856.7 1438.1,858.4 1439.2,860.0 1440.4,861.6 1441.6,863.2 1442.8,864.8 1444.0,866.4 1445.3,868.0 1446.5,869.5 1447.8,871.1 1449.1,872.6 1450.4,874.1 1451.8,875.6 1453.1,877.0 1454.5,878.5 1455.9,879.9 1457.3,881.3 1458.7,882.7 1460.2,884.1 1461.7,885.4 1463.2,886.7 1464.7,888.0 1466.3,889.3 1467.8,890.5 1469.4,891.7 1471.1,892.9 1472.7,894.0 1474.4,895.0 1476.1,896.0 1477.9,897.0 1479.6,897.9 1481.5,898.7 1483.3,899.5 1485.1,900.2 1487.0,900.8 1488.9,901.4 1490.9,901.8 1492.8,902.3 1494.8,902.6 1496.7,902.9 1498.7,903.0 1500.7,903.1 1502.6,903.2 1504.6,903.1 1506.6,903.0 1508.5,902.8 1510.5,902.5 1512.4,902.1 1514.4,901.6 1516.3,901.1 1518.2,900.5 1520.0,899.8 1521.9,899.0 1523.7,898.2 1525.4,897.2 1527.2,896.3 1528.8,895.2 1530.4,894.1 1532.0,892.8 1533.5,891.5 1534.8,890.2 1536.2,888.7 1537.4,887.2 1538.6,885.7 1539.8,884.0 1540.8,882.4 1541.9,880.7 1543.0,879.0 1544.0,877.3 1545.0,875.6 1546.0,873.9 1547.1,872.2 1548.1,870.4 1549.1,868.7 1550.1,867.0 1551.1,865.3 1552.2,863.5 1553.2,861.8 1554.2,860.1 1555.2,858.4 1556.2,856.7 1557.2,854.9 1558.3,853.2 1559.3,851.5 1560.3,849.8 1561.3,848.0 1562.3,846.3 1563.3,844.6 1564.2,842.8 1565.2,841.1 1566.2,839.3 1567.1,837.5 1568.0,835.8 1568.9,834.0 1569.8,832.2 1570.7,830.4 1571.6,828.6 1572.5,826.8 1573.3,825.0 1574.2,823.2 1575.0,821.4 1575.9,819.6 1576.7,817.7 1577.5,815.9 1578.4,814.1 1579.2,812.3 1580.0,810.5 1580.8,808.6 1581.6,806.8 1582.5,805.0 1583.3,803.1 1584.1,801.3 1584.9,799.5 1585.6,797.6 1586.4,795.8 1587.2,794.0 1588.0,792.1 1588.7,790.3 1589.5,788.4 1590.3,786.5 1591.0,784.7 1591.7,782.8 1592.5,781.0 1593.2,779.1 1593.9,777.2 1594.6,775.4 1595.4,773.5 1596.1,771.6 1596.8,769.7 1597.4,767.9 1598.1,766.0 1598.8,764.1 1599.4,762.2 1600.1,760.3 1600.7,758.4 1601.4,756.5 1602.0,754.6 1602.6,752.7 1603.2,750.8 1603.8,748.9 1604.4,747.0 1605.0,745.1 1605.6,743.2 1606.2,741.3 1606.7,739.3 1607.3,737.4 1607.9,735.5 1608.4,733.6 1609.0,731.6 1609.5,729.7 1610.1,727.8 1610.6,725.9 1611.1,723.9 1611.7,722.0 1612.2,720.1 1612.8,718.2 1613.3,716.2 1613.8,714.3 1614.4,712.4 1614.9,710.4 1615.4,708.5 1615.9,706.6 1616.5,704.7 1617.0,702.7 1617.5,700.8 1618.0,698.9 1618.5,696.9 1619.1,695.0 1619.6,693.1 1620.1,691.1 1620.6,689.2 1621.1,687.3 1621.6,685.3 1622.1,683.4 1622.6,681.5 1623.1,679.5 1623.6,677.6 1624.1,675.6 1624.6,673.7 1625.1,671.8 1625.6,669.8 1626.1,667.9 1626.6,665.9 1627.1,664.0 1627.6,662.1 1628.1,660.1 1628.6,658.2 1629.1,656.3 1629.6,654.3 1630.1,652.4 1630.6,650.5 1631.1,648.5 1631.6,646.6 1632.2,644.7 1632.7,642.7 1633.2,640.8 1633.7,638.9 1634.2,636.9 1634.8,635.0 1635.3,633.1 1635.8,631.1 1636.3,629.2 1636.8,627.3 1637.4,625.3 1637.9,623.4 1638.4,621.5 1638.9,619.5 1639.4,617.6 1639.9,615.7 1640.5,613.7 1641.0,611.8 1641.5,609.9 1642.0,607.9 1642.5,606.0 1643.0,604.1 1643.4,602.1 1643.9,600.2 1644.4,598.2 1644.9,596.3 1645.4,594.3 1645.9,592.4 1646.3,590.5 1646.8,588.5 1647.3,586.6 1647.7,584.6 1648.2,582.7 1648.7,580.7 1649.1,578.8 1649.6,576.8 1650.0,574.9 1650.5,572.9 1650.9,571.0 1651.4,569.0 1651.8,567.1 1652.3,565.1 1652.7,563.2 1653.2,561.2 1653.6,559.3 1654.1,557.3 1654.5,555.4 1654.9,553.4 1655.4,551.5 1655.8,549.5 1656.2,547.6 1656.7,545.6 1657.1,543.7 1657.5,541.7 1657.9,539.7 1658.4,537.8 1658.8,535.8 1659.2,533.9 1659.6,531.9 1660.0,530.0 1660.5,528.0 1660.9,526.0 1661.3,524.1 1661.7,522.1 1662.1,520.2 1662.5,518.2 1662.9,516.3 1663.3,514.3 1663.7,512.3 1664.1,510.4 1664.5,508.4 1664.9,506.5 1665.3,504.5 1665.7,502.5 1666.1,500.6 1666.5,498.6 1666.9,496.6 1667.3,494.7 1667.7,492.7 1668.1,490.8 1668.4,488.8 1668.8,486.8 1669.2,484.9 1669.6,482.9 1670.0,480.9 1670.4,479.0 1670.7,477.0 1671.1,475.0 1671.5,473.1 1671.9,471.1 1672.2,469.1 1672.6,467.2 1673.0,465.2 1673.4,463.2 1673.7,461.3 1674.1,459.3 1674.5,457.4 1674.8,455.4 1675.2,453.4 1675.6,451.4 1675.9,449.5 1676.3,447.5 1676.7,445.5 1677.0,443.6 1677.4,441.6 1677.8,439.6 1678.1,437.7 1678.5,435.7 1678.8,433.7 1679.2,431.8 1679.5,429.8 1679.9,427.8 1680.3,425.9 1680.6,423.9 1681.0,421.9 1681.3,420.0 1681.7,418.0 1682.0,416.0 1682.4,414.0 1682.7,412.1 1683.1,410.1 1683.4,408.1 1683.8,406.2 1684.1,404.2 1684.5,402.2 1684.8,400.3 1685.2,398.3 1685.5,396.3 1685.9,394.3 1686.2,392.4 1686.6,390.4 1686.9,388.4 1687.3,386.5 1687.6,384.5 1688.0,382.5 1688.3,380.5 1688.6,378.6 1689.0,376.6 1689.3,374.6 1689.7,372.7 1690.0,370.7 1690.4,368.7 1690.7,366.8 1691.1,364.8 1691.4,362.8 1691.7,360.8 1692.1,358.9 1692.4,356.9 1692.8,354.9 1693.1,353.0 1693.5,351.0 1693.8,349.0 1694.1,347.0 1694.5,345.1 1694.8,343.1 1695.2,341.1 1695.5,339.2 1695.8,337.2 1696.2,335.2 1696.5,333.2 1696.9,331.3 1697.2,329.3 1697.6,327.3 1697.9,325.4 1698.2,323.4 1698.6,321.4 1698.9,319.4 1699.3,317.5 1699.6,315.5 1699.9,313.5 1700.3,311.6 1700.6,309.6 1701.0,307.6 1701.3,305.6 1701.7,303.7 1702.0,301.7 1702.3,299.7 1702.7,297.8 1703.0,295.8 1703.4,293.8 1703.7,291.8 1704.1,289.9 1704.4,287.9 1704.8,285.9 1705.1,284.0 1705.5,282.0 1705.8,280.0 1706.1,278.1 1706.5,276.1 1706.8,274.1 1707.2,272.1 1707.5,270.2 1707.9,268.2 1708.2,266.2 1708.6,264.3 1708.9,262.3 1709.3,260.3 1709.6,258.4 1710.0,256.4 1710.3,254.4 1710.7,252.4 1711.0,250.5 1711.4,248.5 1711.7,246.5 1712.0,244.6 1712.4,242.6 1712.7,240.6 1713.1,238.7 1713.4,236.7 1713.8,234.7 1714.1,232.7 1714.5,230.8 1714.8,228.8 1715.2,226.8 1715.5,224.9 1715.9,222.9 1716.2,220.9 1716.6,219.0 1716.9,217.0 1717.3,215.0 1717.6,213.0 1718.0,211.1 1718.3,209.1 1718.7,207.1 1719.0,205.2 1719.4,203.2 1719.7,201.2 1720.1,199.3 1720.4,197.3 1720.8,195.3 1721.1,193.3 1721.4,191.4 1721.8,189.4 1722.1,187.4 1722.5,185.5 1722.8,183.5 1723.2,181.5 1723.5,179.5 1723.9,177.6 1724.2,175.6 1724.6,173.6 1724.9,171.7 1725.3,169.7 1725.6,167.7 1726.0,165.8 1726.3,163.8 1726.6,161.8 1727.0,159.8 1727.3,157.9 1727.7,155.9 1728.0,153.9 1728.4,152.0 1728.7,150.0 1729.1,148.0 1729.4,146.0 1729.7,144.1 1730.1,142.1 1730.4,140.1 1730.8,138.2 1731.1,136.2 1731.5,134.2 1731.8,132.3 1732.1,130.3 1732.5,128.3 1732.8,126.3 1733.2,124.4 1733.5,122.4 1733.9,120.4 1734.2,118.5 1734.5,116.5 1734.9,114.5 1735.2,112.5 1735.6,110.6 1735.9,108.6 1736.2,106.6 1736.6,104.7 1736.9,102.7 1737.3,100.7 1737.6,98.7 1737.9,96.8 1738.3,94.8 1738.6,92.8 1739.0,90.9 1739.3,88.9 1739.6,86.9 1740.0,84.9 1740.3,83.0 1740.7,81.0 1741.0,79.0 1741.3,77.1 1741.7,75.1 1742.0,73.1 1742.4,71.1 1742.7,69.2 1743.0,67.2 1743.4,65.2 1743.7,63.3 1744.1,61.3 1744.4,59.3 1744.7,57.3 1745.1,55.4 1745.4,53.4 1745.8,51.4 1746.1,49.5 1746.4,47.5 1746.8,45.5 1747.1,43.5 1747.5,41.6 1747.8,39.6 1748.2,37.6 1748.5,35.7 1748.8,33.7 1749.2,31.7 1749.5,29.8 1749.9,27.8 1750.2,25.9 1750.5,23.9 1750.9,22.0 1751.2,20.1 1751.5,18.2 1751.9,16.2 1752.2,14.2 1752.6,12.0"/>
<path stroke="#00B050" d="M248.0,1116.3 250.2,1116.3 252.3,1116.3 254.3,1116.3 256.2,1116.3 258.2,1116.4 260.1,1116.4 262.1,1116.4 264.1,1116.5 266.0,1116.5 268.0,1116.5 270.0,1116.6 272.0,1116.6 274.0,1116.6 276.0,1116.7 278.0,1116.7 280.0,1116.7 282.0,1116.8 284.0,1116.8 286.0,1116.8 288.0,1116.9 290.0,1116.9 292.0,1116.9 294.0,1116.9 296.0,1116.9 298.0,1117.0 300.0,1117.0 302.0,1117.0 304.0,1117.0 306.0,1116.9 308.0,1116.9 310.0,1116.9 312.0,1116.9 314.0,1116.9 316.0,1116.8 318.0,1116.8 320.0,1116.8 322.0,1116.7 324.0,1116.7 326.0,1116.6 328.0,1116.6 330.0,1116.6 332.0,1116.5 334.0,1116.5 336.0,1116.4 338.0,1116.4 340.0,1116.3 342.0,1116.3 344.0,1116.3 346.0,1116.2 348.0,1116.2 350.0,1116.2 352.0,1116.1 354.0,1116.1 356.0,1116.1 358.0,1116.0 360.1,1116.0 362.1,1116.0 364.1,1116.0 366.1,1116.0 368.1,1116.0 370.1,1115.9 372.1,1115.9 374.1,1115.9 376.1,1115.9 378.1,1115.9 380.1,1115.9 382.1,1115.9 384.1,1115.9 386.1,1115.9 388.1,1115.9 390.1,1115.9 392.1,1115.9 394.1,1115.9 396.1,1115.9 398.1,1115.9 400.1,1115.9 402.1,1115.9 404.1,1115.9 406.1,1115.9 408.1,1115.9 410.1,1115.9 412.1,1115.9 414.1,1115.9 416.1,1116.0 418.1,1116.0 420.1,1116.0 422.1,1116.0 424.1,1116.0 426.1,1116.1 428.1,1116.1 430.1,1116.1 432.1,1116.2 434.1,1116.2 436.1,1116.2 438.1,1116.3 440.1,1116.3 442.1,1116.4 444.1,1116.4 446.1,1116.5 448.1,1116.5 450.1,1116.6 452.1,1116.6 454.1,1116.7 456.1,1116.7 458.1,1116.8 460.1,1116.8 462.1,1116.9 464.1,1116.9 466.1,1117.0 468.1,1117.0 470.1,1117.1 472.1,1117.2 474.1,1117.2 476.1,1117.3 478.1,1117.4 480.1,1117.4 482.1,1117.5 484.1,1117.6 486.1,1117.6 488.1,1117.7 490.1,1117.8 492.1,1117.8 494.1,1117.9 496.1,1118.0 498.1,1118.0 500.1,1118.1 502.1,1118.2 504.1,1118.3 506.1,1118.3 508.1,1118.4 510.1,1118.5 512.1,1118.5 514.1,1118.6 516.1,1118.6 518.1,1118.7 520.1,1118.8 522.1,1118.8 524.1,1118.9 526.1,1118.9 528.1,1119.0 530.1,1119.0 532.1,1119.1 534.1,1119.1 536.1,1119.2 538.1,1119.2 540.1,1119.3 542.1,1119.3 544.1,1119.3 546.1,1119.4 548.1,1119.4 550.1,1119.4 552.1,1119.5 554.1,1119.5 556.1,1119.5 558.1,1119.5 560.1,1119.6 562.1,1119.6 564.1,1119.6 566.1,1119.6 568.1,1119.6 570.1,1119.6 572.1,1119.7 574.1,1119.7 576.1,1119.7 578.1,1119.7 580.1,1119.7 582.1,1119.6 584.1,1119.6 586.1,1119.6 588.1,1119.6 590.1,1119.5 592.1,1119.5 594.1,1119.4 596.1,1119.3 598.1,1119.2 600.1,1119.1 602.1,1119.0 604.1,1118.9 606.1,1118.7 608.1,1118.6 610.1,1118.4 612.1,1118.2 614.1,1118.1 616.1,1117.9 618.1,1117.7 620.1,1117.4 622.1,1117.2 624.0,1117.0 626.0,1116.7 628.0,1116.4 630.0,1116.1 632.0,1115.8 634.0,1115.5 636.0,1115.2 637.9,1114.9 639.9,1114.6 641.9,1114.2 643.9,1113.8 645.8,1113.4 647.8,1113.1 649.8,1112.7 651.7,1112.2 653.7,1111.8 655.7,1111.4 657.6,1111.0 659.6,1110.5 661.5,1110.1 663.5,1109.6 665.4,1109.2 667.4,1108.7 669.3,1108.3 671.3,1107.8 673.2,1107.4 675.2,1106.9 677.1,1106.5 679.1,1106.1 681.0,1105.6 683.0,1105.2 684.9,1104.8 686.9,1104.4 688.8,1104.0 690.8,1103.6 692.8,1103.2 694.7,1102.9 696.7,1102.5 698.7,1102.1 700.6,1101.8 702.6,1101.4 704.6,1101.1 706.5,1100.7 708.5,1100.4 710.5,1100.0 712.5,1099.7 714.4,1099.3 716.4,1099.0 718.4,1098.7 720.4,1098.3 722.3,1098.0 724.3,1097.7 726.3,1097.4 728.3,1097.1 730.3,1096.8 732.3,1096.5 734.2,1096.2 736.2,1095.9 738.2,1095.6 740.2,1095.4 742.2,1095.2 744.2,1095.0 746.2,1094.8 748.2,1094.6 750.2,1094.5 752.2,1094.4 754.1,1094.3 756.1,1094.2 758.1,1094.2 760.1,1094.2 762.1,1094.2 764.1,1094.2 766.1,1094.3 768.1,1094.3 770.1,1094.4 772.1,1094.5 774.1,1094.6 776.1,1094.7 778.1,1094.8 780.1,1094.9 782.1,1095.1 784.1,1095.2 786.1,1095.4 788.1,1095.5 790.1,1095.7 792.1,1095.8 794.1,1096.0 796.1,1096.2 798.1,1096.3 800.1,1096.5 802.1,1096.7 804.1,1096.9 806.1,1097.0 808.0,1097.2 810.0,1097.4 812.0,1097.6 814.0,1097.7 816.0,1097.9 818.0,1098.1 820.0,1098.3 822.0,1098.5 824.0,1098.7 826.0,1098.9 828.0,1099.1 830.0,1099.2 832.0,1099.4 833.9,1099.6 835.9,1099.8 837.9,1099.9 839.9,1100.1 841.9,1100.3 843.9,1100.4 845.9,1100.6 847.9,1100.7 849.9,1100.8 851.9,1101.0 853.9,1101.1 855.9,1101.2 857.9,1101.3 859.9,1101.4 861.9,1101.5 863.9,1101.6 865.9,1101.7 867.9,1101.8 869.9,1101.8 871.9,1101.9 873.9,1102.0 875.9,1102.0 877.9,1102.1 879.9,1102.1 881.9,1102.2 883.9,1102.2 885.9,1102.3 887.9,1102.3 889.9,1102.3 891.9,1102.4 893.9,1102.4 895.9,1102.4 897.9,1102.4 899.9,1102.5 901.9,1102.5 903.9,1102.5 905.9,1102.5 907.9,1102.4 909.9,1102.4 911.9,1102.4 913.9,1102.3 915.9,1102.3 917.9,1102.2 919.9,1102.1 921.9,1102.0 923.9,1101.9 925.9,1101.7 927.9,1101.6 929.9,1101.4 931.9,1101.2 933.9,1101.0 935.9,1100.7 937.9,1100.5 939.8,1100.2 941.8,1099.9 943.8,1099.5 945.8,1099.2 947.7,1098.8 949.7,1098.4 951.6,1098.0 953.6,1097.6 955.6,1097.2 957.5,1096.8 959.5,1096.3 961.4,1095.9 963.4,1095.5 965.3,1095.0 967.3,1094.6 969.2,1094.2 971.2,1093.7 973.1,1093.3 975.1,1092.8 977.0,1092.4 979.0,1091.9 980.9,1091.5 982.9,1091.0 984.8,1090.6 986.8,1090.1 988.7,1089.7 990.7,1089.2 992.6,1088.8 994.6,1088.3 996.5,1087.9 998.5,1087.4 1000.4,1087.0 1002.4,1086.5 1004.3,1086.1 1006.3,1085.6 1008.2,1085.2 1010.2,1084.7 1012.1,1084.3 1014.1,1083.8 1016.0,1083.4 1018.0,1082.9 1019.9,1082.4 1021.9,1082.0 1023.8,1081.5 1025.8,1081.1 1027.7,1080.7 1029.7,1080.2 1031.6,1079.8 1033.6,1079.4 1035.6,1079.0 1037.5,1078.6 1039.5,1078.2 1041.5,1077.9 1043.4,1077.6 1045.4,1077.3 1047.4,1077.0 1049.4,1076.7 1051.4,1076.5 1053.4,1076.3 1055.4,1076.1 1057.4,1075.9 1059.4,1075.8 1061.4,1075.6 1063.4,1075.5 1065.4,1075.4 1067.4,1075.3 1069.4,1075.2 1071.4,1075.2 1073.4,1075.1 1075.4,1075.1 1077.4,1075.1 1079.4,1075.1 1081.4,1075.1 1083.4,1075.2 1085.4,1075.2 1087.4,1075.3 1089.4,1075.3 1091.4,1075.4 1093.4,1075.5 1095.4,1075.6 1097.4,1075.8 1099.4,1075.9 1101.4,1076.0 1103.3,1076.2 1105.3,1076.4 1107.3,1076.6 1109.3,1076.8 1111.3,1077.0 1113.3,1077.2 1115.3,1077.4 1117.3,1077.7 1119.3,1077.9 1121.2,1078.2 1123.2,1078.4 1125.2,1078.6 1127.2,1078.7 1129.2,1078.9 1131.2,1079.0 1133.2,1079.0 1135.2,1079.0 1137.2,1079.0 1139.2,1078.9 1141.1,1078.8 1143.1,1078.6 1145.1,1078.4 1147.1,1078.1 1149.0,1077.7 1151.0,1077.3 1152.9,1076.8 1154.8,1076.3 1156.7,1075.6 1158.6,1074.9 1160.4,1074.1 1162.2,1073.3 1163.9,1072.4 1165.6,1071.3 1167.3,1070.3 1168.9,1069.1 1170.5,1068.0 1172.1,1066.7 1173.6,1065.4 1175.1,1064.1 1176.5,1062.7 1177.9,1061.3 1179.3,1059.8 1180.6,1058.4 1181.9,1056.8 1183.1,1055.3 1184.4,1053.7 1185.6,1052.1 1186.7,1050.5 1187.9,1048.9 1189.1,1047.2 1190.2,1045.6 1191.3,1043.9 1192.4,1042.3 1193.5,1040.6 1194.6,1038.9 1195.7,1037.3 1196.8,1035.6 1197.9,1033.9 1199.0,1032.2 1200.0,1030.5 1201.1,1028.8 1202.1,1027.1 1203.2,1025.4 1204.2,1023.7 1205.2,1021.9 1206.2,1020.2 1207.2,1018.5 1208.1,1016.7 1209.1,1014.9 1210.0,1013.2 1210.9,1011.4 1211.8,1009.6 1212.7,1007.8 1213.6,1006.0 1214.4,1004.2 1215.2,1002.4 1216.1,1000.5 1216.9,998.7 1217.6,996.9 1218.4,995.0 1219.2,993.2 1219.9,991.3 1220.7,989.5 1221.4,987.6 1222.1,985.7 1222.7,983.8 1223.4,981.9 1224.0,980.0 1224.7,978.1 1225.3,976.2 1225.9,974.3 1226.5,972.4 1227.1,970.5 1227.7,968.6 1228.3,966.7 1228.8,964.8 1229.4,962.9 1230.0,960.9 1230.6,959.0 1231.2,957.1 1231.7,955.2 1232.3,953.3 1232.9,951.4 1233.5,949.4 1234.0,947.5 1234.6,945.6 1235.2,943.7 1235.8,941.8 1236.3,939.9 1236.9,937.9 1237.5,936.0 1238.1,934.1 1238.7,932.2 1239.2,930.3 1239.8,928.4 1240.4,926.5 1241.0,924.5 1241.5,922.6 1242.1,920.7 1242.7,918.8 1243.3,916.9 1243.8,915.0 1244.4,913.0 1245.0,911.1 1245.5,909.2 1246.1,907.3 1246.6,905.3 1247.2,903.4 1247.7,901.5 1248.3,899.6 1248.8,897.6 1249.4,895.7 1249.9,893.8 1250.4,891.9 1250.9,889.9 1251.5,888.0 1252.0,886.1 1252.5,884.1 1253.0,882.2 1253.5,880.3 1254.0,878.3 1254.5,876.4 1255.0,874.5 1255.5,872.5 1256.1,870.6 1256.6,868.6 1257.1,866.7 1257.6,864.8 1258.1,862.8 1258.6,860.9 1259.1,859.0 1259.6,857.0 1260.1,855.1 1260.6,853.1 1261.1,851.2 1261.6,849.3 1262.1,847.3 1262.6,845.4 1263.1,843.5 1263.6,841.5 1264.1,839.6 1264.6,837.7 1265.1,835.7 1265.6,833.8 1266.1,831.8 1266.6,829.9 1267.1,828.0 1267.6,826.0 1268.1,824.1 1268.6,822.2 1269.1,820.2 1269.7,818.3 1270.2,816.4 1270.7,814.4 1271.2,812.5 1271.7,810.5 1272.2,808.6 1272.7,806.7 1273.2,804.7 1273.7,802.8 1274.3,800.9 1274.8,798.9 1275.3,797.0 1275.8,795.1 1276.3,793.1 1276.8,791.2 1277.3,789.3 1277.9,787.3 1278.4,785.4 1278.9,783.5 1279.4,781.5 1279.9,779.6 1280.4,777.7 1280.9,775.7 1281.4,773.8 1281.9,771.8 1282.4,769.9 1282.9,768.0 1283.4,766.0 1283.8,764.1 1284.3,762.1 1284.8,760.2 1285.3,758.3 1285.8,756.3 1286.3,754.4 1286.8,752.4 1287.2,750.5 1287.7,748.6 1288.2,746.6 1288.7,744.7 1289.2,742.7 1289.7,740.8 1290.3,738.9 1290.8,736.9 1291.3,735.0 1291.8,733.1 1292.4,731.2 1292.9,729.2 1293.5,727.3 1294.0,725.4 1294.6,723.5 1295.2,721.6 1295.8,719.6 1296.3,717.7 1296.9,715.8 1297.5,713.9 1298.1,712.0 1298.7,710.1 1299.4,708.2 1300.0,706.3 1300.6,704.4 1301.2,702.5 1301.9,700.6 1302.5,698.7 1303.2,696.8 1303.8,694.9 1304.5,693.0 1305.2,691.1 1305.9,689.3 1306.6,687.4 1307.3,685.5 1308.0,683.7 1308.8,681.8 1309.5,679.9 1310.3,678.1 1311.0,676.2 1311.8,674.4 1312.6,672.6 1313.4,670.7 1314.2,668.9 1315.0,667.1 1315.9,665.3 1316.7,663.4 1317.6,661.6 1318.5,659.9 1319.4,658.1 1320.3,656.3 1321.3,654.6 1322.3,652.8 1323.3,651.1 1324.4,649.5 1325.5,647.8 1326.6,646.2 1327.9,644.7 1329.1,643.2 1330.5,641.7 1331.9,640.4 1333.4,639.1 1335.0,638.0 1336.6,636.9 1338.3,636.0 1340.1,635.3 1341.9,634.8 1343.7,634.4 1345.5,634.3 1347.3,634.3 1349.1,634.6 1351.0,635.0 1352.7,635.6 1354.5,636.4 1356.1,637.4 1357.8,638.5 1359.3,639.7 1360.8,640.9 1362.2,642.3 1363.6,643.8 1364.8,645.3 1366.1,646.8 1367.3,648.4 1368.4,650.0 1369.5,651.7 1370.6,653.3 1371.7,655.0 1372.7,656.7 1373.7,658.5 1374.7,660.2 1375.7,661.9 1376.6,663.7 1377.6,665.5 1378.5,667.2 1379.4,669.0 1380.4,670.8 1381.3,672.6 1382.2,674.4 1383.0,676.2 1383.9,677.9 1384.8,679.7 1385.7,681.6 1386.5,683.4 1387.4,685.2 1388.2,687.0 1389.1,688.8 1389.9,690.6 1390.7,692.4 1391.6,694.3 1392.4,696.1 1393.2,697.9 1394.0,699.7 1394.8,701.6 1395.6,703.4 1396.4,705.2 1397.2,707.1 1398.0,708.9 1398.8,710.7 1399.6,712.6 1400.4,714.4 1401.2,716.3 1402.0,718.1 1402.8,719.9 1403.6,721.8 1404.3,723.6 1405.1,725.4 1405.9,727.3 1406.7,729.1 1407.5,731.0 1408.3,732.8 1409.1,734.6 1409.9,736.5 1410.7,738.3 1411.5,740.1 1412.3,742.0 1413.1,743.8 1413.9,745.7 1414.7,747.5 1415.5,749.3 1416.3,751.2 1417.1,753.0 1417.9,754.8 1418.7,756.7 1419.5,758.5 1420.3,760.3 1421.1,762.2 1421.9,764.0 1422.7,765.8 1423.5,767.7 1424.3,769.5 1425.1,771.3 1425.9,773.2 1426.7,775.0 1427.5,776.8 1428.3,778.7 1429.1,780.5 1429.9,782.3 1430.7,784.1 1431.6,786.0 1432.4,787.8 1433.2,789.6 1434.0,791.4 1434.9,793.3 1435.7,795.1 1436.5,796.9 1437.3,798.7 1438.2,800.5 1439.0,802.4 1439.9,804.2 1440.7,806.0 1441.5,807.8 1442.4,809.6 1443.3,811.4 1444.1,813.2 1445.0,815.0 1445.9,816.8 1446.7,818.6 1447.6,820.4 1448.5,822.2 1449.4,824.0 1450.3,825.8 1451.2,827.6 1452.2,829.3 1453.1,831.1 1454.0,832.9 1454.9,834.7 1455.9,836.4 1456.9,838.2 1457.8,839.9 1458.8,841.7 1459.8,843.4 1460.9,845.1 1461.9,846.8 1463.0,848.5 1464.1,850.2 1465.2,851.8 1466.3,853.5 1467.5,855.1 1468.7,856.7 1469.9,858.3 1471.1,859.9 1472.4,861.4 1473.7,863.0 1475.0,864.5 1476.3,866.0 1477.6,867.4 1479.0,868.9 1480.4,870.4 1481.7,871.8 1483.1,873.3 1484.5,874.7 1485.9,876.1 1487.3,877.5 1488.7,878.9 1490.2,880.3 1491.7,881.6 1493.2,882.8 1494.8,884.0 1496.4,885.1 1498.1,886.2 1499.8,887.1 1501.6,887.9 1503.5,888.5 1505.4,889.1 1507.3,889.5 1509.2,889.7 1511.2,889.9 1513.2,889.9 1515.2,889.9 1517.1,889.7 1519.1,889.5 1521.1,889.3 1523.1,888.9 1525.0,888.6 1527.0,888.1 1528.9,887.6 1530.8,887.1 1532.7,886.5 1534.6,885.8 1536.5,885.1 1538.3,884.3 1540.1,883.5 1541.9,882.6 1543.6,881.6 1545.4,880.7 1547.1,879.6 1548.8,878.6 1550.4,877.5 1552.1,876.3 1553.7,875.1 1555.2,873.9 1556.8,872.7 1558.3,871.4 1559.8,870.0 1561.2,868.7 1562.6,867.3 1564.0,865.8 1565.3,864.3 1566.6,862.8 1567.9,861.3 1569.1,859.7 1570.3,858.1 1571.5,856.5 1572.7,854.9 1573.8,853.2 1574.9,851.5 1576.0,849.9 1577.0,848.2 1578.0,846.4 1579.0,844.7 1580.0,843.0 1580.9,841.2 1581.9,839.4 1582.8,837.7 1583.7,835.9 1584.6,834.1 1585.5,832.3 1586.3,830.5 1587.2,828.7 1588.1,826.9 1589.0,825.1 1589.9,823.3 1590.8,821.5 1591.7,819.8 1592.6,818.0 1593.6,816.2 1594.5,814.4 1595.4,812.7 1596.3,810.9 1597.2,809.1 1598.2,807.3 1599.1,805.5 1600.0,803.8 1600.9,802.0 1601.8,800.2 1602.6,798.4 1603.5,796.6 1604.4,794.8 1605.2,793.0 1606.1,791.1 1606.9,789.3 1607.7,787.5 1608.5,785.6 1609.3,783.8 1610.0,782.0 1610.8,780.1 1611.6,778.2 1612.3,776.4 1613.0,774.5 1613.8,772.7 1614.5,770.8 1615.2,768.9 1615.9,767.1 1616.6,765.2 1617.3,763.3 1618.0,761.4 1618.7,759.5 1619.3,757.7 1620.0,755.8 1620.7,753.9 1621.3,752.0 1622.0,750.1 1622.7,748.2 1623.3,746.3 1624.0,744.4 1624.6,742.5 1625.3,740.6 1625.9,738.8 1626.6,736.9 1627.2,735.0 1627.9,733.1 1628.5,731.2 1629.2,729.3 1629.9,727.4 1630.5,725.5 1631.2,723.6 1631.8,721.7 1632.5,719.8 1633.1,717.9 1633.8,716.0 1634.4,714.2 1635.0,712.3 1635.7,710.4 1636.3,708.5 1637.0,706.6 1637.6,704.7 1638.2,702.8 1638.9,700.9 1639.5,699.0 1640.1,697.1 1640.7,695.2 1641.4,693.3 1642.0,691.4 1642.6,689.5 1643.2,687.6 1643.8,685.6 1644.4,683.7 1645.0,681.8 1645.6,679.9 1646.2,678.0 1646.8,676.1 1647.3,674.2 1647.9,672.3 1648.5,670.3 1649.0,668.4 1649.6,666.5 1650.2,664.6 1650.7,662.7 1651.3,660.7 1651.8,658.8 1652.4,656.9 1652.9,655.0 1653.5,653.0 1654.0,651.1 1654.5,649.2 1655.1,647.2 1655.6,645.3 1656.2,643.4 1656.7,641.5 1657.2,639.5 1657.8,637.6 1658.3,635.7 1658.8,633.8 1659.4,631.8 1659.9,629.9 1660.4,628.0 1661.0,626.0 1661.5,624.1 1662.0,622.2 1662.6,620.3 1663.1,618.3 1663.6,616.4 1664.1,614.5 1664.7,612.5 1665.2,610.6 1665.7,608.7 1666.2,606.7 1666.7,604.8 1667.2,602.9 1667.7,600.9 1668.3,599.0 1668.8,597.1 1669.3,595.1 1669.8,593.2 1670.3,591.2 1670.8,589.3 1671.3,587.4 1671.8,585.4 1672.3,583.5 1672.8,581.6 1673.3,579.6 1673.8,577.7 1674.3,575.8 1674.9,573.8 1675.4,571.9 1675.9,569.9 1676.4,568.0 1676.9,566.1 1677.4,564.1 1677.9,562.2 1678.4,560.3 1678.9,558.3 1679.4,556.4 1679.9,554.5 1680.4,552.5 1680.9,550.6 1681.4,548.6 1681.9,546.7 1682.4,544.8 1682.9,542.8 1683.4,540.9 1683.9,538.9 1684.4,537.0 1684.9,535.1 1685.4,533.1 1685.9,531.2 1686.4,529.3 1686.9,527.3 1687.4,525.4 1687.9,523.4 1688.4,521.5 1688.9,519.6 1689.4,517.6 1689.9,515.7 1690.4,513.8 1690.9,511.8 1691.3,509.9 1691.8,507.9 1692.3,506.0 1692.8,504.1 1693.3,502.1 1693.8,500.2 1694.3,498.2 1694.8,496.3 1695.3,494.4 1695.8,492.4 1696.3,490.5 1696.8,488.5 1697.3,486.6 1697.7,484.7 1698.2,482.7 1698.7,480.8 1699.2,478.8 1699.7,476.9 1700.2,475.0 1700.7,473.0 1701.2,471.1 1701.6,469.1 1702.1,467.2 1702.6,465.2 1703.1,463.3 1703.6,461.4 1704.1,459.4 1704.6,457.5 1705.0,455.5 1705.5,453.6 1706.0,451.7 1706.5,449.7 1707.0,447.8 1707.5,445.8 1707.9,443.9 1708.4,441.9 1708.9,440.0 1709.4,438.1 1709.9,436.1 1710.3,434.2 1710.8,432.2 1711.3,430.3 1711.8,428.3 1712.2,426.4 1712.7,424.5 1713.2,422.5 1713.7,420.6 1714.1,418.6 1714.6,416.7 1715.1,414.7 1715.6,412.8 1716.0,410.9 1716.5,408.9 1717.0,407.0 1717.5,405.0 1717.9,403.1 1718.4,401.1 1718.9,399.2 1719.3,397.2 1719.8,395.3 1720.3,393.3 1720.8,391.4 1721.2,389.5 1721.7,387.5 1722.2,385.6 1722.6,383.6 1723.1,381.7 1723.6,379.7 1724.0,377.8 1724.5,375.8 1725.0,373.9 1725.4,371.9 1725.9,370.0 1726.3,368.0 1726.8,366.1 1727.3,364.1 1727.7,362.2 1728.2,360.3 1728.6,358.3 1729.1,356.4 1729.5,354.4 1730.0,352.5 1730.4,350.5 1730.9,348.6 1731.4,346.6 1731.8,344.7 1732.3,342.7 1732.7,340.8 1733.2,338.8 1733.6,336.9 1734.1,334.9 1734.5,333.0 1735.0,331.0 1735.4,329.1 1735.9,327.1 1736.3,325.2 1736.8,323.2 1737.2,321.3 1737.7,319.3 1738.2,317.4 1738.6,315.4 1739.1,313.5 1739.5,311.5 1740.0,309.6 1740.4,307.6 1740.9,305.7 1741.3,303.7 1741.8,301.8 1742.3,299.8 1742.7,297.9 1743.2,295.9 1743.7,294.0 1744.1,292.1 1744.6,290.1 1745.0,288.2 1745.5,286.2 1746.0,284.3 1746.4,282.3 1746.9,280.4 1747.4,278.4 1747.9,276.5 1748.3,274.5 1748.8,272.6 1749.3,270.7 1749.7,268.7 1750.2,266.8 1750.7,264.8 1751.2,262.9 1751.6,260.9 1752.1,259.0 1752.6,257.0 1753.0,255.1 1753.5,253.1 1754.0,251.2 1754.5,249.3 1754.9,247.3 1755.4,245.4 1755.9,243.4 1756.3,241.5 1756.8,239.5 1757.3,237.6 1757.8,235.6 1758.2,233.7 1758.7,231.8 1759.2,229.8 1759.6,227.9 1760.1,225.9 1760.6,224.0 1761.1,222.0 1761.5,220.1 1762.0,218.1 1762.5,216.2 1763.0,214.3 1763.4,212.3 1763.9,210.4 1764.4,208.4 1764.8,206.5 1765.3,204.5 1765.8,202.6 1766.3,200.6 1766.7,198.7 1767.2,196.8 1767.7,194.8 1768.2,192.9 1768.6,190.9 1769.1,189.0 1769.6,187.0 1770.0,185.1 1770.5,183.1 1771.0,181.2 1771.5,179.3 1771.9,177.3 1772.4,175.4 1772.9,173.4 1773.3,171.5 1773.8,169.5 1774.3,167.6 1774.8,165.6 1775.2,163.7 1775.7,161.8 1776.2,159.8 1776.7,157.9 1777.1,155.9 1777.6,154.0 1778.1,152.0 1778.5,150.1 1779.0,148.1 1779.5,146.2 1780.0,144.2 1780.4,142.3 1780.9,140.4 1781.4,138.4 1781.8,136.5 1782.3,134.5 1782.8,132.6 1783.2,130.6 1783.7,128.7 1784.2,126.7 1784.7,124.8 1785.1,122.9 1785.6,120.9 1786.1,119.0 1786.5,117.0 1787.0,115.1 1787.5,113.1 1787.9,111.2 1788.4,109.2 1788.9,107.3 1789.4,105.3 1789.8,103.4 1790.3,101.5 1790.8,99.5 1791.2,97.6 1791.7,95.6 1792.2,93.7 1792.6,91.7 1793.1,89.8 1793.6,87.8 1794.0,85.9 1794.5,83.9 1795.0,82.0 1795.5,80.1 1795.9,78.1 1796.4,76.2 1796.9,74.2 1797.3,72.3 1797.8,70.3 1798.3,68.4 1798.7,66.4 1799.2,64.5 1799.7,62.6 1800.2,60.6 1800.6,58.7 1801.1,56.7 1801.6,54.8 1802.0,52.8 1802.5,50.9 1803.0,48.9 1803.4,47.0 1803.9,45.0 1804.4,43.1 1804.9,41.2 1805.3,39.2 1805.8,37.3 1806.3,35.3 1806.8,33.4 1807.2,31.4 1807.7,29.5 1808.2,27.6 1808.6,25.7 1809.1,23.8 1809.6,21.9 1810.0,20.0 1810.5,18.1 1811.0,16.1 1811.5,14.1 1812.0,12.0"/>
</g>
<g stroke-width="8.6" stroke-linecap="round" fill="none">
<line x1="404" y1="63.6" x2="494" y2="63.6" stroke="#7030A0"/>
<line x1="404" y1="127.3" x2="494" y2="127.3" stroke="#FF0000"/>
<line x1="404" y1="190.4" x2="494" y2="190.4" stroke="#0000FF"/>
<line x1="404" y1="251.2" x2="494" y2="251.2" stroke="#FFC000"/>
<line x1="404" y1="314.3" x2="494" y2="314.3" stroke="#FF00FF"/>
<line x1="404" y1="375.3" x2="494" y2="375.3" stroke="#00B050"/>
</g>
<g font-size="48" fill="#000">
<text x="505.8" y="81.3" textLength="259.6" lengthAdjust="spacing">BRB pH 2.0</text>
<text x="505.8" y="141.2" textLength="331.6" lengthAdjust="spacing">plasma sample</text>
<text x="505.8" y="205.0" textLength="487.8" lengthAdjust="spacing">spiked plasma sample</text>
<text x="505.8" y="266.5" textLength="874.5" lengthAdjust="spacing">spiked plasma sample + addition 1 HVA</text>
<text x="505.8" y="329.6" textLength="874.5" lengthAdjust="spacing">spiked plasma sample + addition 2 HVA</text>
<text x="505.8" y="390.8" textLength="874.5" lengthAdjust="spacing">spiked plasma sample + addition 3 HVA</text>
</g>
<g stroke="#3a3a3a" stroke-width="3" fill="none">
<line x1="603.3" y1="993.0" x2="603.3" y2="413.6"/>
<line x1="415.79999999999995" y1="991.5" x2="976.8" y2="991.5"/>
<line x1="603.3" y1="847.4" x2="612.8" y2="847.4"/>
<line x1="603.3" y1="703.3" x2="612.8" y2="703.3"/>
<line x1="603.3" y1="559.2" x2="612.8" y2="559.2"/>
<line x1="603.3" y1="415.1" x2="612.8" y2="415.1"/>
<line x1="417.3" y1="991.5" x2="417.3" y2="982.0"/>
<line x1="789.3" y1="991.5" x2="789.3" y2="982.0"/>
<line x1="975.3" y1="991.5" x2="975.3" y2="982.0"/>
</g>
<g font-size="30" fill="#262626">
<text x="579" y="1002.1" text-anchor="end">0.0</text>
<text x="579" y="858.0" text-anchor="end">0.2</text>
<text x="579" y="713.9" text-anchor="end">0.4</text>
<text x="579" y="569.8" text-anchor="end">0.6</text>
<text x="579" y="425.7" text-anchor="end">0.8</text>
<text x="414.1" y="1037" text-anchor="middle">−10</text>
<text x="602.7" y="1037" text-anchor="middle">0</text>
<text x="788.7" y="1037" text-anchor="middle">10</text>
<text x="973.7" y="1037" text-anchor="middle">20</text>
</g>
<clipPath id="insclip"><rect x="380" y="380" width="700" height="612.5"/></clipPath>
<line x1="500.2" y1="1001.5" x2="882.3" y2="489.4" stroke="#00B050" stroke-width="6.3" clip-path="url(#insclip)"/>
<path d="M603.3,851.5 L613.2,861.4 L603.3,871.3 L593.4,861.4Z" fill="#00B050"/>
<path d="M696.3,735.5 L706.2,745.4 L696.3,755.3 L686.4,745.4Z" fill="#00B050"/>
<path d="M789.3,602.3 L799.2,612.2 L789.3,622.1 L779.4,612.2Z" fill="#00B050"/>
<path d="M882.3,481.9 L892.2,491.8 L882.3,501.7 L872.4,491.8Z" fill="#00B050"/>
<g font-size="34" fill="#333" text-anchor="middle">
<text x="795" y="903.5">y = 0.0346x + 0.1779</text>
<text x="796" y="944">R² = 0.9994</text>
</g>
<g font-weight="bold" fill="#111">
<text x="752" y="1073" font-size="33">C</text>
<text x="776.5" y="1079.5" font-size="22" textLength="88.5" lengthAdjust="spacing">addition</text>
<text x="875.8" y="1073" font-size="33" textLength="73.5" lengthAdjust="spacingAndGlyphs">[<tspan font-family="Liberation Serif, serif">μ</tspan>M]</text>
<text transform="translate(479 531.5) rotate(-90)" font-size="33" textLength="99.8" lengthAdjust="spacingAndGlyphs">I<tspan font-size="22" dy="7">p</tspan><tspan dy="-7"> [</tspan><tspan font-family="Liberation Serif, serif">μ</tspan>A]</text>
</g>
</svg></body></html>
